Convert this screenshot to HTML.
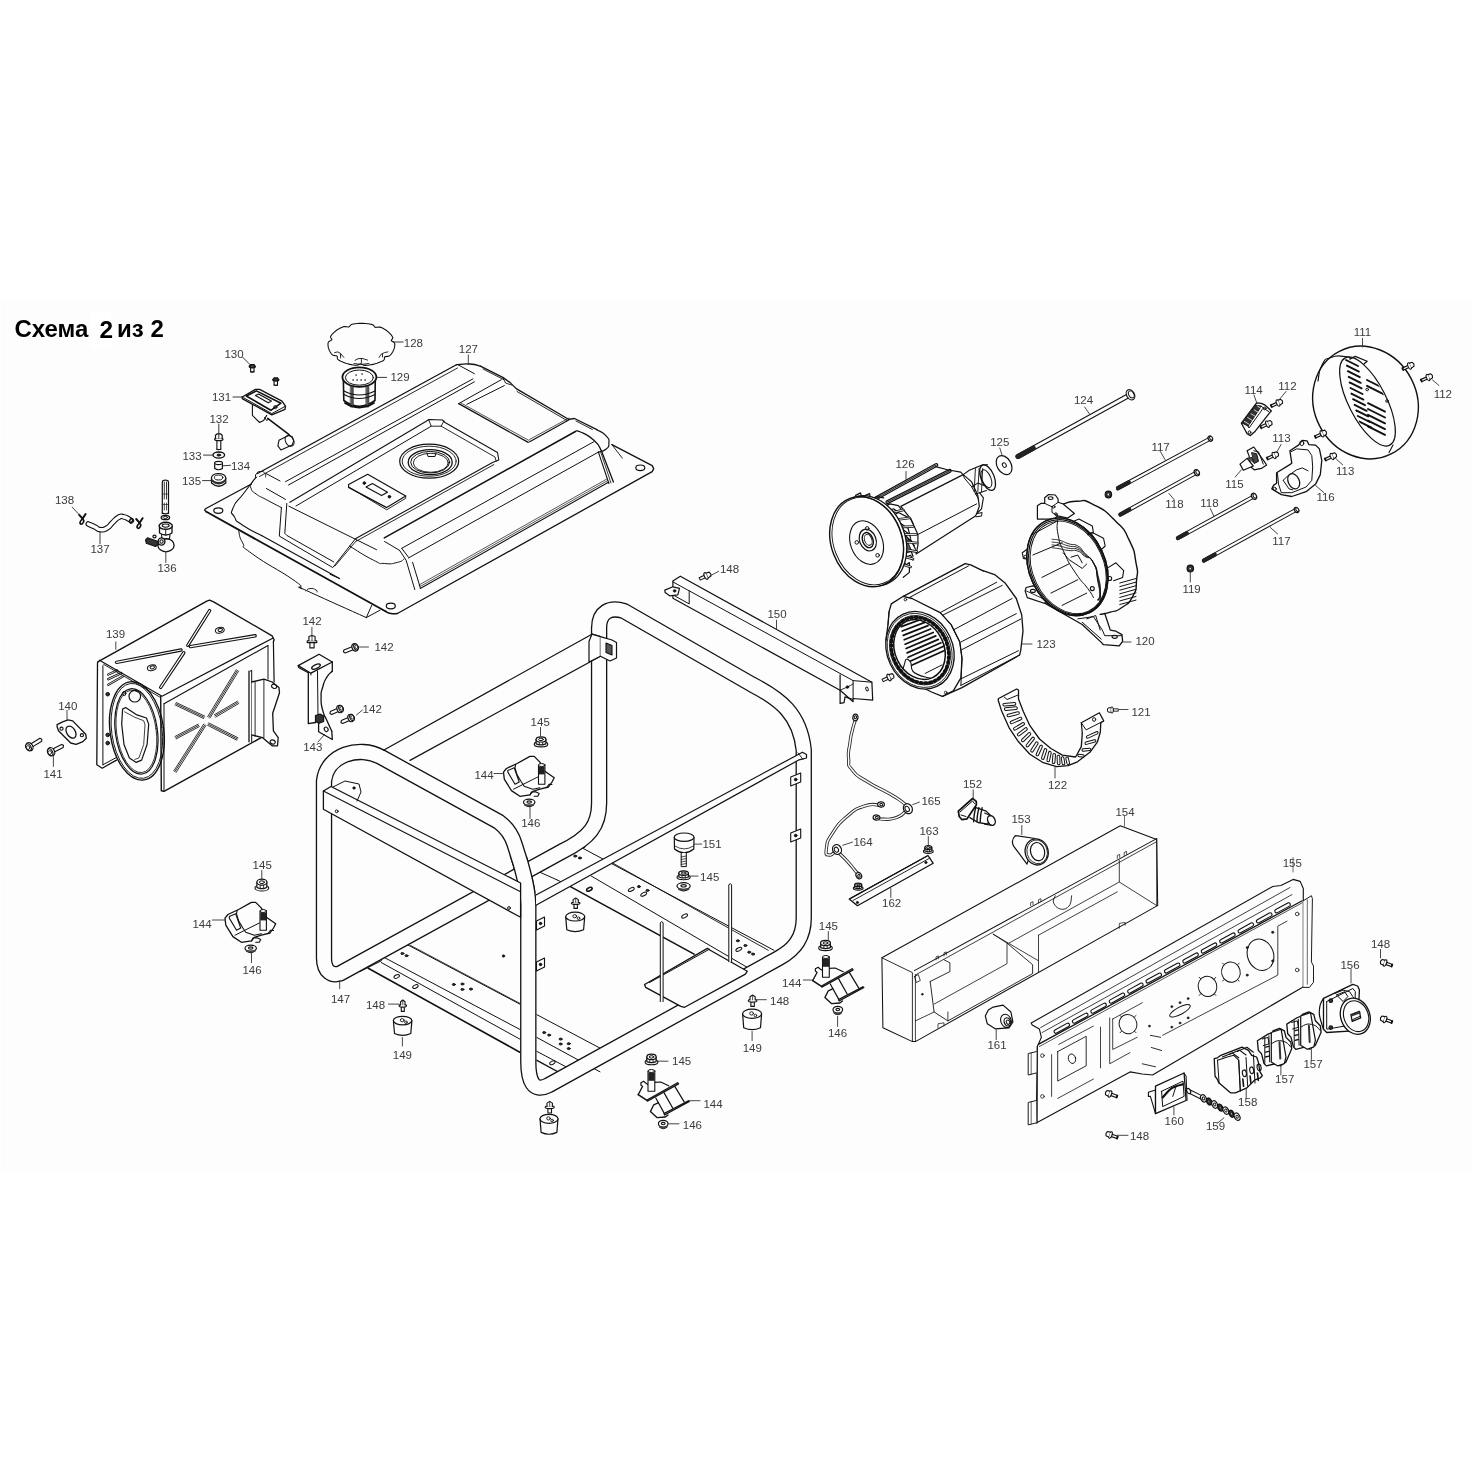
<!DOCTYPE html>
<html><head><meta charset="utf-8"><style>
html,body{margin:0;padding:0;background:#fff;}
body{width:1472px;height:1472px;overflow:hidden;}
svg{display:block;will-change:transform;}
text{font-family:"Liberation Sans",sans-serif;font-size:11.5px;fill:#3a3a3a;}
.ttl{font-family:"Liberation Sans",sans-serif;font-weight:bold;font-size:24px;fill:#000;}
</style></head><body>
<svg width="1472" height="1472" viewBox="0 0 1472 1472" xmlns="http://www.w3.org/2000/svg" stroke-linecap="round" stroke-linejoin="round">
<rect width="1472" height="1472" fill="#fff"/>
<rect x="1" y="300.6" width="1471" height="870.2" fill="#fdfdfd"/>
<rect x="90" y="311" width="21" height="38" fill="#fff"/>
<text class="ttl" x="14.5" y="337">Схема</text>
<text class="ttl" x="99.5" y="338" style="font-size:24.4px">2</text>
<text class="ttl" x="117" y="337">из</text>
<text class="ttl" x="150.5" y="337">2</text>
<path d="M238.6 530.7 C240 534.8 238.2 535.2 242.7 542.9 C247.2 550.6 235.5 541.6 252.2 553.8 C268.9 566 276.6 568.3 292.9 579.6 C309.2 590.9 295.7 583.6 301.1 587.7 C306.5 591.8 287.5 581.8 309.2 591.8 C330.9 601.8 347.3 609 366.3 617.6" fill="none" stroke="#111" stroke-width="1.0" />
<path d="M366.3 617.6 L371.7 605.4" fill="none" stroke="#111" stroke-width="1.0" />
<path d="M366.3 617.6 L380 610.2" fill="none" stroke="#111" stroke-width="1.0" />
<path d="M306 591 C307.3 590.2 306.7 588.8 310 588.5 C313.3 588.2 313.7 588.8 316 590 C318.3 591.2 316.7 591.3 317 592" fill="none" stroke="#111" stroke-width="0.9" />
<path d="M251.4 484 L205.5 508.7 L204.6 510 L206.4 511.8" fill="none" stroke="#111" stroke-width="1.3" />
<path d="M206.4 511.8 L385.4 611.3" fill="none" stroke="#111" stroke-width="1.8" />
<path d="M385.4 611.3 C387.2 612 386.9 612.8 390.9 613.5 C394.9 614.2 395.2 613.5 397.4 613.5" fill="none" stroke="#111" stroke-width="1.5" />
<path d="M397.4 613.5 L652.2 471.6 L653.7 468.6 L652.2 465.6 L611.9 444.7" fill="none" stroke="#111" stroke-width="1.3" />
<path d="M611.9 444.7 L622.3 458.1" fill="none" stroke="#111" stroke-width="0.9" />
<ellipse cx="218.3" cy="510.6" rx="4.5" ry="2.8" transform="rotate(0 218.3 510.6)" fill="none" stroke="#111" stroke-width="1.2"/>
<ellipse cx="390.8" cy="606" rx="4.5" ry="2.8" transform="rotate(0 390.8 606)" fill="none" stroke="#111" stroke-width="1.2"/>
<ellipse cx="640.3" cy="467.8" rx="4.5" ry="2.8" transform="rotate(0 640.3 467.8)" fill="none" stroke="#111" stroke-width="1.2"/>
<path d="M257.5 473.5 L456.4 364.7" fill="none" stroke="#111" stroke-width="1.3" />
<path d="M259.5 476.5 L457.5 368" fill="none" stroke="#111" stroke-width="0.9" />
<path d="M255.5 478 C255.8 476.5 254.7 475.7 256.5 473.5 C258.3 471.3 258.2 471.5 261 471.5 C263.8 471.5 263.5 471.7 265 473.5 C266.5 475.3 265.3 475.8 265.5 477" fill="none" stroke="#111" stroke-width="1.0" />
<path d="M456.4 364.7 C460.9 364.5 461.9 363.5 469.9 364 C477.9 364.5 476.9 365.5 480.4 366.2" fill="none" stroke="#111" stroke-width="1.3" />
<path d="M480.4 366.2 L502.8 377.4 L510.2 382.6 L516.2 388.6 L568.5 419.3 L574.5 418.5 L596.9 429.7" fill="none" stroke="#111" stroke-width="1.3" />
<path d="M596.9 429.7 C599.9 431.7 601.9 431.2 605.9 435.7 C609.9 440.2 608.9 438.7 608.9 443.2 C608.9 447.7 609.4 446.2 605.9 449.2 C602.4 452.2 600.9 451.1 598.4 452.1" fill="none" stroke="#111" stroke-width="1.2" />
<path d="M483 369 L503.5 379.5" fill="none" stroke="#111" stroke-width="0.9" />
<path d="M517 391.5 L567 420.5" fill="none" stroke="#111" stroke-width="0.9" />
<path d="M576 421 L592.4 429.5" fill="none" stroke="#111" stroke-width="0.9" />
<path d="M502.8 377.4 L505.5 383 L511.5 385" fill="none" stroke="#111" stroke-width="0.9" />
<path d="M457.9 364.7 L474.4 373.7" fill="none" stroke="#111" stroke-width="1.0" />
<path d="M285.5 481.7 L472.9 378.9" fill="none" stroke="#111" stroke-width="1.0" />
<path d="M288.5 485 L474.4 381.8" fill="none" stroke="#111" stroke-width="1.0" />
<path d="M266 473.5 L280 481" fill="none" stroke="#111" stroke-width="1.0" />
<path d="M266 478 L279 485" fill="none" stroke="#111" stroke-width="0.0" />
<path d="M458.7 403.6 L501.3 379.7" fill="none" stroke="#111" stroke-width="1.0" />
<path d="M466.9 404.3 L504.3 385.6" fill="none" stroke="#111" stroke-width="1.0" />
<path d="M458.7 403.6 L528.2 442.4" fill="none" stroke="#111" stroke-width="1.3" />
<path d="M461 403 L529 440.5" fill="none" stroke="#111" stroke-width="0.7" />
<path d="M529.7 441.7 L570 419.3" fill="none" stroke="#111" stroke-width="1.3" />
<path d="M529.5 439.5 L569 418" fill="none" stroke="#111" stroke-width="0.7" />
<path d="M289.9 502.3 L426.2 421.2 L428.8 419.5 L442.5 420 L445 422.5 L497.5 452.5 L498.8 460 L492.5 462.5" fill="none" stroke="#111" stroke-width="1.1" />
<path d="M428.8 420 L431.2 426.2 L441.2 426.2 L443.8 421.2" fill="none" stroke="#111" stroke-width="0.9" />
<path d="M431.2 426.2 L296 506" fill="none" stroke="#111" stroke-width="1.0" />
<path d="M441.2 426.2 L495 457 L496.2 461.2" fill="none" stroke="#111" stroke-width="0.9" />
<path d="M492.5 462.5 L355.4 538.8" fill="none" stroke="#111" stroke-width="1.1" />
<path d="M493.8 464.6 L356.6 541" fill="none" stroke="#111" stroke-width="0.9" />
<ellipse cx="429.2" cy="461.2" rx="29.5" ry="17" transform="rotate(0 429.2 461.2)" fill="#fdfdfd" stroke="#111" stroke-width="1.2"/>
<ellipse cx="429.2" cy="461.2" rx="27" ry="15" transform="rotate(0 429.2 461.2)" fill="none" stroke="#111" stroke-width="0.9"/>
<ellipse cx="430.2" cy="462.2" rx="22" ry="12.5" transform="rotate(0 430.2 462.2)" fill="none" stroke="#111" stroke-width="1.3"/>
<ellipse cx="430.2" cy="462.2" rx="19.5" ry="10.8" transform="rotate(0 430.2 462.2)" fill="none" stroke="#111" stroke-width="1.0"/>
<ellipse cx="430.8" cy="462.8" rx="17.5" ry="9.5" transform="rotate(0 430.8 462.8)" fill="none" stroke="#111" stroke-width="0.9"/>
<path d="M427 453 L428 456.5 L435 456.5 L436 453" fill="none" stroke="#111" stroke-width="1.0" />
<path d="M348.6 484.5 L367.7 474.3 L405.7 496 L386.7 507.6 L348.6 487.4 L348.6 484.5" fill="none" stroke="#111" stroke-width="1.2" />
<path d="M349.5 487.5 L386.7 509.8 L405.7 498.3 L405.7 496" fill="none" stroke="#111" stroke-width="0.9" />
<path d="M366 487 L372.4 483.6 L387.5 492.2 L381.6 495.6 Z" fill="none" stroke="#111" stroke-width="1.1" />
<circle cx="364.3" cy="483.1" r="1.3" fill="#111" stroke="#111" stroke-width="1.0"/>
<circle cx="389.4" cy="496.7" r="1.3" fill="#111" stroke="#111" stroke-width="1.0"/>
<path d="M384.3 537.9 L574.5 432" fill="none" stroke="#111" stroke-width="1.5" />
<path d="M574.5 432 C576.5 432 574 429.3 580.5 432 C587 434.7 586.9 434 593.9 440.2 C600.9 446.4 598.9 447.2 601.4 450.7" fill="none" stroke="#111" stroke-width="1.3" />
<path d="M601.4 450.7 L613.4 482" fill="none" stroke="#111" stroke-width="1.3" />
<path d="M401.7 548.3 L593.9 441.7" fill="none" stroke="#111" stroke-width="1.0" />
<path d="M408.3 558 L598.4 452.1" fill="none" stroke="#111" stroke-width="1.0" />
<path d="M598.4 452.1 L608.9 483.5" fill="none" stroke="#111" stroke-width="1.1" />
<path d="M600.9 452.5 L611 483" fill="none" stroke="#111" stroke-width="0.8" />
<path d="M420.2 588.5 L608.9 482" fill="none" stroke="#111" stroke-width="1.1" />
<path d="M419.6 586.8 L607.6 480.6" fill="none" stroke="#111" stroke-width="0.7" />
<path d="M419 585 L606.5 479.2" fill="none" stroke="#111" stroke-width="0.7" />
<path d="M412.6 562.4 L420.2 587.4" fill="none" stroke="#111" stroke-width="1.0" />
<path d="M399.6 550.4 L406.1 560.2 L414.8 589.6" fill="none" stroke="#111" stroke-width="1.0" />
<path d="M401.7 548.3 L408.3 557" fill="none" stroke="#111" stroke-width="1.0" />
<path d="M384.6 541.5 L399.6 550.4" fill="none" stroke="#111" stroke-width="1.0" />
<path d="M349.6 546.1 C357.6 550.8 361.9 554.4 373.5 560.2 C385.1 566 376.3 562.8 384.3 563.5 C392.3 564.2 390.9 563.9 397.4 562.4 C403.9 560.9 401.7 560.2 403.9 559.1" fill="none" stroke="#111" stroke-width="1.0" />
<path d="M414.8 589.6 L420.5 591.5 L613.4 483.5" fill="none" stroke="#111" stroke-width="0.0" />
<path d="M255 478.5 C251.3 483.3 251.3 483.3 244 493 C236.7 502.7 236.4 499.6 233.2 507.6 C230 515.6 231.3 511.2 234.5 517.1 C237.7 523 233.5 519 242.7 525.2 C251.9 531.4 255.6 532.3 262 535.8" fill="none" stroke="#111" stroke-width="1.1" />
<path d="M262 535.8 L339.1 578.2" fill="none" stroke="#111" stroke-width="1.1" />
<path d="M256.9 477 C255.2 478.9 253.8 479 251.9 482.8 C250 486.6 249.7 484.8 251.1 488.5 C252.5 492.2 251.3 490.4 256.2 494 C261.1 497.6 257.4 494.9 265.8 499.4 C274.2 503.9 276.2 504.9 281.4 507.6" fill="none" stroke="#111" stroke-width="1.0" />
<path d="M281.4 507.6 L279.3 536.1 L332.3 567.3" fill="none" stroke="#111" stroke-width="1.0" />
<path d="M286.8 503.5 L284.8 533.4 L286.8 535.4 L333.7 561.9" fill="none" stroke="#111" stroke-width="1.0" />
<path d="M333 567.3 L355.4 538.8" fill="none" stroke="#111" stroke-width="1.0" />
<path d="M335 566 L356.5 540.5" fill="none" stroke="#111" stroke-width="0.9" />
<path d="M266.4 488.5 L285.5 499.4" fill="none" stroke="#111" stroke-width="1.0" />
<path d="M288.9 506.2 L376.5 549.7" fill="none" stroke="#111" stroke-width="1.0" />
<path d="M287.5 514.3 L354.1 541.5" fill="none" stroke="#111" stroke-width="0.0" />
<path d="M330 574.3 L339.8 578.7" fill="none" stroke="#111" stroke-width="1.0" />
<line x1="225" y1="496.7" x2="251" y2="483" stroke="#222" stroke-width="0"/>
<path d="M394.8 344.5 L394.8 345.2 L394.7 346 L394.6 346.7 L394.5 347.4 L394.3 348.2 L394 348.9 L393.8 349.6 L393.5 350.3 L393.1 351 L392.8 351.7 L392.3 352.4 L391.9 353.1 L391.4 353.8 L390.9 354.4 L390.3 355.1 L389.6 355.7 L388.7 356.2 L387.3 356.4 L385.8 356.6 L384.7 356.9 L384.4 357.6 L384.4 358.6 L384.3 359.5 L383.7 360.2 L382.9 360.7 L381.9 361.2 L381 361.6 L380.1 362 L379.1 362.4 L378.1 362.8 L377.1 363.2 L376 363.5 L375 363.8 L373.9 364.1 L372.8 364.4 L371.7 364.6 L370.6 364.8 L369.5 365 L368.3 365.2 L367.2 365.3 L366 365.4 L364.9 365.4 L363.7 365.2 L362.5 364.6 L361.4 364 L360.3 363.8 L359.2 364.2 L358 364.9 L356.8 365.2 L355.6 365.3 L354.5 365.2 L353.3 365 L352.2 364.8 L351.1 364.6 L350 364.4 L348.9 364.1 L347.8 363.8 L346.8 363.5 L345.7 363.2 L344.7 362.8 L343.7 362.4 L342.7 362 L341.8 361.6 L340.9 361.2 L339.9 360.7 L339.1 360.2 L338.2 359.7 L337.6 359.1 L337.3 358.2 L337.4 357.3 L337.3 356.4 L336.6 355.9 L335.3 355.7 L333.8 355.4 L332.7 355 L331.9 354.4 L331.4 353.8 L330.9 353.1 L330.5 352.4 L330 351.7 L329.7 351 L329.3 350.3 L329 349.6 L328.8 348.9 L328.5 348.2 L328.3 347.4 L328.2 346.7 L328.1 346 L328 345.2 L328 344.5 L328 343.8 L328.1 343 L328.3 342.3 L328.8 341.6 L329.8 341 L331 340.4 L331.8 339.8 L331.8 339.1 L331.1 338.3 L330.6 337.4 L330.6 336.6 L330.9 335.9 L331.4 335.2 L331.9 334.6 L332.5 333.9 L333.1 333.3 L333.7 332.7 L334.4 332.1 L335.1 331.5 L335.8 330.9 L336.6 330.3 L337.4 329.8 L338.2 329.3 L339.1 328.8 L339.9 328.3 L340.9 327.8 L341.8 327.4 L342.7 327 L343.8 326.6 L345 326.5 L346.5 326.7 L347.9 327 L349 326.9 L349.8 326.2 L350.4 325.3 L351.2 324.6 L352.2 324.2 L353.3 324 L354.5 323.8 L355.6 323.7 L356.8 323.5 L357.9 323.5 L359.1 323.4 L360.2 323.4 L361.4 323.3 L362.6 323.4 L363.7 323.4 L364.9 323.5 L366 323.5 L367.2 323.7 L368.3 323.8 L369.5 324 L370.6 324.2 L371.7 324.4 L372.7 324.7 L373.6 325.4 L374.2 326.3 L374.8 327.1 L375.7 327.4 L377.1 327.3 L378.6 327.1 L379.9 327.1 L381 327.4 L381.9 327.8 L382.9 328.3 L383.7 328.8 L384.6 329.3 L385.4 329.8 L386.2 330.3 L387 330.9 L387.7 331.5 L388.4 332.1 L389.1 332.7 L389.7 333.3 L390.3 333.9 L390.9 334.6 L391.4 335.2 L391.9 335.9 L392.3 336.6 L392.7 337.3 L392.8 338 L392.4 338.9 L391.7 339.7 L391.2 340.5 L391.7 341.1 L392.8 341.7 L393.9 342.3 L394.5 343 L394.7 343.8 L394.8 344.5 Z" fill="#fdfdfd" stroke="#111" stroke-width="1.1" />
<path d="M334.6 352.6 L337.7 351.9 L340.4 353.3 L343.8 357.4" fill="none" stroke="#111" stroke-width="0.9" />
<path d="M355 360.4 L358 358.7 L362.1 358.4 L367.6 360.1" fill="none" stroke="#111" stroke-width="0.9" />
<path d="M379.1 357.4 L381.1 354.3 L384.5 352.6 L387.9 351.9" fill="none" stroke="#111" stroke-width="0.9" />
<path d="M340.4 353.6 L340.7 358" fill="none" stroke="#111" stroke-width="0.9" />
<path d="M361.4 358.7 L361.4 362.8" fill="none" stroke="#111" stroke-width="0.9" />
<path d="M382.5 354.3 L382.5 357" fill="none" stroke="#111" stroke-width="0.9" />
<path d="M354 363.5 L360.8 364.5 L368.9 363.5" fill="none" stroke="#111" stroke-width="0.9" />
<line x1="393.4" y1="342" x2="403.2" y2="342" stroke="#222" stroke-width="0.9"/>
<path d="M343.3 377.5 L343.8 400.5 Q359 412 375 400.5 L375.3 377.5" fill="#fdfdfd" stroke="#111" stroke-width="1.6" />
<ellipse cx="359.4" cy="377.1" rx="17" ry="9.8" transform="rotate(0 359.4 377.1)" fill="#fdfdfd" stroke="#111" stroke-width="1.8"/>
<ellipse cx="359.4" cy="377.6" rx="14" ry="7.6" transform="rotate(0 359.4 377.6)" fill="none" stroke="#111" stroke-width="1.0"/>
<path d="M350.6 386.5 L353.3 386.5 L353.3 407 L350.6 407 Z" fill="#555" stroke="#222" stroke-width="0.6"/>
<path d="M366.2 386.5 L368.9 386.5 L368.9 407 L366.2 407 Z" fill="#555" stroke="#222" stroke-width="0.6"/>
<path d="M344 391 Q359 399 375 391" fill="none" stroke="#111" stroke-width="1.2" />
<path d="M344 394.5 Q359 402.5 375 394.5" fill="none" stroke="#111" stroke-width="1.2" />
<path d="M345 403 Q359 412 374 403" fill="none" stroke="#111" stroke-width="1.8" />
<circle cx="353" cy="380" r="0.5" fill="#333" stroke="#111" stroke-width="0.4"/>
<circle cx="357" cy="380" r="0.5" fill="#333" stroke="#111" stroke-width="0.4"/>
<circle cx="361" cy="380" r="0.5" fill="#333" stroke="#111" stroke-width="0.4"/>
<circle cx="365" cy="380" r="0.5" fill="#333" stroke="#111" stroke-width="0.4"/>
<circle cx="356" cy="375" r="0.5" fill="#333" stroke="#111" stroke-width="0.4"/>
<circle cx="362" cy="374" r="0.5" fill="#333" stroke="#111" stroke-width="0.4"/>
<line x1="377" y1="377.4" x2="386.6" y2="377.4" stroke="#222" stroke-width="0.9"/>
<path d="M250.6 366.7 L250.6 371.9 L254 371.9 L254 366.7" fill="#fdfdfd" stroke="#111" stroke-width="1.1" />
<path d="M250.6 371.7 Q252.3 372.9 254 371.7" fill="none" stroke="#111" stroke-width="1.0" />
<ellipse cx="252.3" cy="366.5" rx="3.1" ry="1.3" transform="rotate(0 252.3 366.5)" fill="#444" stroke="#111" stroke-width="1.2"/>
<path d="M250.1 366.1 L250.5 364.5 L254.1 364.5 L254.5 366.1" fill="#333" stroke="#111" stroke-width="1.2" />
<path d="M274.1 380 L274.1 385.2 L277.5 385.2 L277.5 380" fill="#fdfdfd" stroke="#111" stroke-width="1.1" />
<path d="M274.1 385 Q275.8 386.2 277.5 385" fill="none" stroke="#111" stroke-width="1.0" />
<ellipse cx="275.8" cy="379.8" rx="3.1" ry="1.3" transform="rotate(0 275.8 379.8)" fill="#444" stroke="#111" stroke-width="1.2"/>
<path d="M273.6 379.4 L274 377.8 L277.6 377.8 L278 379.4" fill="#333" stroke="#111" stroke-width="1.2" />
<line x1="242.7" y1="357.3" x2="249.9" y2="364.5" stroke="#222" stroke-width="0.9"/>
<path d="M252.4 405.2 L252.4 415.4 L259.6 422.5 L263.6 420.5 L266.7 415.4" fill="#fdfdfd" stroke="#111" stroke-width="1.1" />
<path d="M242.2 397 L255.5 389.4 L259.6 389.4 L282 401.1 L285.5 406.2 L285 409.3 L271.8 414.9 L242.2 398.6 Z" fill="#fdfdfd" stroke="#111" stroke-width="1.3" />
<path d="M242.2 397 L271.8 413.6 L285.5 406.2" fill="none" stroke="#111" stroke-width="1.0" />
<path d="M246.3 396 L256.5 390.9 L280.9 403.2 L270.8 410.3 L246.3 396" fill="none" stroke="#111" stroke-width="1.6" />
<path d="M255.5 395.5 L258.5 394 L271.3 401.1 L268.2 402.7 Z" fill="none" stroke="#111" stroke-width="1.2" />
<circle cx="275.3" cy="407.2" r="1.6" fill="none" stroke="#111" stroke-width="1.0"/>
<path d="M267.7 418.4 L289.1 434.7" fill="none" stroke="#111" stroke-width="1.6" />
<path d="M264.6 417.4 L266.7 420.5 L268.7 419" fill="none" stroke="#111" stroke-width="1.0" />
<path d="M278.9 440.9 L277.9 445.9 L280.9 450 L292.2 444.9 L293.7 440.9 L292.2 436.8 L289.1 435.3 L278.9 440.3 Z" fill="#fdfdfd" stroke="#111" stroke-width="1.1" />
<ellipse cx="289.6" cy="440.9" rx="4" ry="5.8" transform="rotate(-30 289.6 440.9)" fill="none" stroke="#111" stroke-width="1.0"/>
<line x1="233" y1="397" x2="242.2" y2="397" stroke="#222" stroke-width="0.9"/>
<path d="M216.9 439.5 L216.9 449.5 L220.8 449.5 L220.8 439.5" fill="#fdfdfd" stroke="#111" stroke-width="1.1" />
<path d="M216.9 449.3 Q218.85 450.6 220.8 449.3" fill="none" stroke="#111" stroke-width="1.0" />
<ellipse cx="218.8" cy="439.2" rx="4.2" ry="1.4" transform="rotate(0 218.8 439.2)" fill="#fdfdfd" stroke="#111" stroke-width="1.2"/>
<path d="M215.5 438.5 L215.5 435.2 L217.2 433.8 L220.5 433.8 L222.2 435.2 L222.2 438.5" fill="#fdfdfd" stroke="#111" stroke-width="1.2" />
<line x1="218.8" y1="434" x2="218.8" y2="438.4" stroke="#222" stroke-width="0.9"/>
<line x1="218.8" y1="424" x2="218.8" y2="433.7" stroke="#222" stroke-width="0.9"/>
<ellipse cx="218.8" cy="455.1" rx="5.8" ry="3.1" transform="rotate(0 218.8 455.1)" fill="#fdfdfd" stroke="#111" stroke-width="1.3"/>
<ellipse cx="218.8" cy="455.1" rx="1.8" ry="1" transform="rotate(0 218.8 455.1)" fill="#222" stroke="#111" stroke-width="1.0"/>
<line x1="203.5" y1="455.1" x2="213" y2="455.1" stroke="#222" stroke-width="0.9"/>
<path d="M214.7 463 L214.7 468.5 Q218.5 471 222.4 468.5 L222.4 463" fill="#fdfdfd" stroke="#111" stroke-width="1.2" />
<ellipse cx="218.6" cy="463" rx="3.9" ry="1.6" transform="rotate(0 218.6 463)" fill="#fdfdfd" stroke="#111" stroke-width="1.1"/>
<line x1="222.9" y1="465.8" x2="230.5" y2="465.3" stroke="#222" stroke-width="0.9"/>
<path d="M211.5 478 L211.5 483 Q218.6 489.5 225.8 483 L225.8 478" fill="#fdfdfd" stroke="#111" stroke-width="1.2" />
<ellipse cx="218.6" cy="478" rx="7.2" ry="4.5" transform="rotate(0 218.6 478)" fill="#fdfdfd" stroke="#111" stroke-width="1.2"/>
<ellipse cx="218.6" cy="477.5" rx="4.2" ry="2.5" transform="rotate(0 218.6 477.5)" fill="none" stroke="#111" stroke-width="1.0"/>
<path d="M212.5 481 Q218.6 486 224.8 481" fill="none" stroke="#333" stroke-width="2.0" />
<line x1="202.5" y1="480.6" x2="211.2" y2="480.6" stroke="#222" stroke-width="0.9"/>
<path d="M162.3 513.5 L162.3 482 L163 480.6 L165.4 480 L167.8 480.6 L168.5 482 L168.5 513.5" fill="#fdfdfd" stroke="#111" stroke-width="1.2" />
<path d="M162.3 513 Q165.4 514.8 168.5 513" fill="none" stroke="#111" stroke-width="1.2" />
<line x1="164.3" y1="482" x2="164.3" y2="499" stroke="#222" stroke-width="0.9"/>
<line x1="166.5" y1="482" x2="166.5" y2="499" stroke="#222" stroke-width="0.9"/>
<line x1="164.3" y1="503" x2="164.3" y2="510" stroke="#222" stroke-width="0.8"/>
<line x1="166.5" y1="503" x2="166.5" y2="510" stroke="#222" stroke-width="0.8"/>
<line x1="162.3" y1="494" x2="168.5" y2="494" stroke="#222" stroke-width="0.7"/>
<line x1="162.3" y1="504.5" x2="168.5" y2="504.5" stroke="#222" stroke-width="0.7"/>
<ellipse cx="165.4" cy="517.5" rx="4.2" ry="2.2" transform="rotate(0 165.4 517.5)" fill="#fdfdfd" stroke="#111" stroke-width="1.3"/>
<ellipse cx="165.4" cy="517.5" rx="2.2" ry="1" transform="rotate(0 165.4 517.5)" fill="none" stroke="#111" stroke-width="0.9"/>
<ellipse cx="166" cy="545.2" rx="8.1" ry="6.6" transform="rotate(0 166 545.2)" fill="#fdfdfd" stroke="#111" stroke-width="1.3"/>
<path d="M159.5 526 L159.5 533 Q165.7 537 172 533 L172 526" fill="#fdfdfd" stroke="#111" stroke-width="1.3" />
<ellipse cx="165.7" cy="525.8" rx="6.6" ry="3.5" transform="rotate(0 165.7 525.8)" fill="#fdfdfd" stroke="#111" stroke-width="1.4"/>
<ellipse cx="165.7" cy="525.6" rx="3.5" ry="1.6" transform="rotate(0 165.7 525.6)" fill="none" stroke="#111" stroke-width="1.1"/>
<line x1="165.7" y1="529.3" x2="165.7" y2="535" stroke="#222" stroke-width="1.0"/>
<path d="M161.5 534.5 L162 539 L169.5 539 L170 534.5" fill="none" stroke="#111" stroke-width="1.1" />
<ellipse cx="161.5" cy="541.5" rx="3.4" ry="3.6" transform="rotate(0 161.5 541.5)" fill="#fdfdfd" stroke="#111" stroke-width="1.4"/>
<ellipse cx="161.5" cy="541.5" rx="1.6" ry="1.8" transform="rotate(0 161.5 541.5)" fill="none" stroke="#111" stroke-width="1.1"/>
<path d="M145.6 539.8 L147.5 537.8 L157.5 541.2 L158.3 544.2 L155.5 546.5 L146.3 543.2 L145.6 539.8 Z" fill="#333" stroke="#111" stroke-width="1.2" />
<ellipse cx="154.5" cy="536.5" rx="1.6" ry="1.3" transform="rotate(0 154.5 536.5)" fill="#fdfdfd" stroke="#111" stroke-width="1.2"/>
<line x1="165.8" y1="552.5" x2="165.8" y2="562.5" stroke="#333" stroke-width="0.9"/>
<path d="M88.3 524 C90.5 525 91 525.1 95 527 C99 528.9 96.2 529.3 100.2 529.6 C104.2 529.9 102.9 530.3 107 528 C111.1 525.7 108.6 526.3 112.4 522.8 C116.2 519.3 114.8 519.4 118.4 517.4 C122 515.4 119.9 516.2 123.3 516.7 C126.7 517.2 126 517.6 128.7 519 C131.4 520.4 130.4 520.2 131.3 520.8" fill="none" stroke="#111" stroke-width="5.6" stroke-linecap="round"/>
<path d="M88.3 524 C90.5 525 91 525.1 95 527 C99 528.9 96.2 529.3 100.2 529.6 C104.2 529.9 102.9 530.3 107 528 C111.1 525.7 108.6 526.3 112.4 522.8 C116.2 519.3 114.8 519.4 118.4 517.4 C122 515.4 119.9 516.2 123.3 516.7 C126.7 517.2 126 517.6 128.7 519 C131.4 520.4 130.4 520.2 131.3 520.8" fill="none" stroke="#fdfdfd" stroke-width="3.4" stroke-linecap="round"/>
<ellipse cx="131.2" cy="520.6" rx="1.4" ry="2.1" transform="rotate(25 131.2 520.6)" fill="#fdfdfd" stroke="#111" stroke-width="1.6"/>
<path d="M79.2 514.8 L82.6 518.6" fill="none" stroke="#111" stroke-width="2.0" />
<path d="M82.6 518.6 L85.6 514" fill="none" stroke="#111" stroke-width="2.0" />
<ellipse cx="81.9" cy="521.8" rx="1.5" ry="2.5" transform="rotate(30 81.9 521.8)" fill="none" stroke="#111" stroke-width="1.6"/>
<path d="M136.2 519 L139.6 522.8" fill="none" stroke="#111" stroke-width="2.0" />
<path d="M139.6 522.8 L142.6 518.2" fill="none" stroke="#111" stroke-width="2.0" />
<ellipse cx="138.9" cy="526" rx="1.5" ry="2.5" transform="rotate(30 138.9 526)" fill="none" stroke="#111" stroke-width="1.6"/>
<line x1="72.2" y1="507.1" x2="79" y2="514.5" stroke="#333" stroke-width="0.9"/>
<line x1="100" y1="532.5" x2="100" y2="543.8" stroke="#222" stroke-width="0.9"/>
<path d="M98.2 661.6 L97.5 662.9 L96.8 764.8 L102.2 768.2 L116.5 760.1" fill="none" stroke="#111" stroke-width="1.3" />
<path d="M102.9 665.7 L102.9 764.8" fill="none" stroke="#111" stroke-width="1.0" />
<path d="M102.9 764.8 L116.5 757.4" fill="none" stroke="#111" stroke-width="1.0" />
<ellipse cx="136.9" cy="730.9" rx="26.8" ry="49.5" transform="rotate(-8 136.9 730.9)" fill="#fdfdfd" stroke="#111" stroke-width="1.4"/>
<ellipse cx="136.9" cy="730.9" rx="25.2" ry="47.8" transform="rotate(-8 136.9 730.9)" fill="none" stroke="#111" stroke-width="0.9"/>
<ellipse cx="136.4" cy="731.4" rx="21" ry="43" transform="rotate(-8 136.4 731.4)" fill="none" stroke="#111" stroke-width="1.2"/>
<ellipse cx="136.4" cy="731.4" rx="19.8" ry="41.5" transform="rotate(-8 136.4 731.4)" fill="none" stroke="#111" stroke-width="0.8"/>
<path d="M122.6 709.1 L125.6 707.5 L136.2 714.6 L146.4 718 L148.7 724.1 L147.1 744.5 L141.6 760.1 L136.2 762.4 L129.4 758 L124 744.5 L121.7 724.1 L122.6 709.1 Z" fill="none" stroke="#111" stroke-width="1.2" />
<path d="M124.6 711.8 L134.8 717.3 L143.7 720.7 L145 724.8 L143.7 744.5 L138.9 758 L134.8 759.4" fill="none" stroke="#111" stroke-width="0.8" />
<circle cx="134.8" cy="696.2" r="5.8" fill="none" stroke="#111" stroke-width="1.2"/>
<ellipse cx="124.2" cy="693.5" rx="1.6" ry="2.2" transform="rotate(0 124.2 693.5)" fill="none" stroke="#111" stroke-width="1.0"/>
<path d="M108.3 674.5 L117.2 670.4" fill="none" stroke="#111" stroke-width="2.4" />
<path d="M108.3 674.5 L117.2 670.4" fill="none" stroke="#fdfdfd" stroke-width="0.8" />
<path d="M108.3 679.2 L121.2 673.1" fill="none" stroke="#111" stroke-width="2.4" />
<path d="M108.3 679.2 L121.2 673.1" fill="none" stroke="#fdfdfd" stroke-width="0.8" />
<path d="M108.3 684.7 L122.6 676.5" fill="none" stroke="#111" stroke-width="2.4" />
<path d="M108.3 684.7 L122.6 676.5" fill="none" stroke="#fdfdfd" stroke-width="0.8" />
<circle cx="107.7" cy="694.2" r="1.8" fill="#333" stroke="#111" stroke-width="1.0"/>
<circle cx="107.7" cy="734.9" r="1.8" fill="#333" stroke="#111" stroke-width="1.0"/>
<circle cx="107.7" cy="743.1" r="1.8" fill="#333" stroke="#111" stroke-width="1.0"/>
<path d="M98.2 661.6 L206.8 601.1 L209.6 600.2 L213.6 601.8 L272.1 635.8 L274.1 639.8 L273.4 641.9" fill="none" stroke="#111" stroke-width="1.4" />
<path d="M99.5 660.2 L162 696.2 L272.7 638.2" fill="none" stroke="#111" stroke-width="1.2" />
<path d="M103.6 664.3 L160.7 697.6" fill="none" stroke="#111" stroke-width="0.9" />
<path d="M164 703.7 L268 645.5" fill="none" stroke="#111" stroke-width="1.1" />
<path d="M116.5 662.3 L181 650" fill="none" stroke="#111" stroke-width="3.4000000000000004" stroke-linecap="round"/>
<path d="M116.5 662.3 L181 650" fill="none" stroke="#fdfdfd" stroke-width="1.2000000000000002" stroke-linecap="round"/>
<path d="M190.5 646.6 L255.1 635.8" fill="none" stroke="#111" stroke-width="3.4000000000000004" stroke-linecap="round"/>
<path d="M190.5 646.6 L255.1 635.8" fill="none" stroke="#fdfdfd" stroke-width="1.2000000000000002" stroke-linecap="round"/>
<path d="M209.6 610.6 L187.8 645.3" fill="none" stroke="#111" stroke-width="3.4000000000000004" stroke-linecap="round"/>
<path d="M209.6 610.6 L187.8 645.3" fill="none" stroke="#fdfdfd" stroke-width="1.2000000000000002" stroke-linecap="round"/>
<path d="M183.8 652.7 L160.7 687.4" fill="none" stroke="#111" stroke-width="3.4000000000000004" stroke-linecap="round"/>
<path d="M183.8 652.7 L160.7 687.4" fill="none" stroke="#fdfdfd" stroke-width="1.2000000000000002" stroke-linecap="round"/>
<ellipse cx="151.8" cy="667.7" rx="4.5" ry="2.8" transform="rotate(-15 151.8 667.7)" fill="none" stroke="#111" stroke-width="1.0"/>
<ellipse cx="152.3" cy="667.4" rx="2.2" ry="1.5" transform="rotate(-15 152.3 667.4)" fill="none" stroke="#111" stroke-width="1.0"/>
<ellipse cx="219.8" cy="630.3" rx="4.5" ry="2.8" transform="rotate(-15 219.8 630.3)" fill="none" stroke="#111" stroke-width="1.0"/>
<ellipse cx="220.3" cy="630" rx="2.2" ry="1.5" transform="rotate(-15 220.3 630)" fill="none" stroke="#111" stroke-width="1.0"/>
<path d="M160.7 696.2 L161.3 790.7 L164 791.3 L261.2 737.7" fill="none" stroke="#111" stroke-width="1.4" />
<path d="M164 703.7 L164 790.7" fill="none" stroke="#111" stroke-width="1.0" />
<path d="M268 645.5 L268 679.2" fill="none" stroke="#111" stroke-width="1.0" />
<path d="M273.4 641.9 L274.1 682" fill="none" stroke="#111" stroke-width="1.2" />
<line x1="173.8" y1="770.9" x2="203.7" y2="724" stroke="#111" stroke-width="0.85"/>
<line x1="174.9" y1="771.6" x2="204.8" y2="724.8" stroke="#111" stroke-width="0.85"/>
<line x1="176.1" y1="772.4" x2="205.9" y2="725.5" stroke="#111" stroke-width="0.85"/>
<line x1="207.7" y1="716.6" x2="236.3" y2="669.7" stroke="#111" stroke-width="0.85"/>
<line x1="208.9" y1="717.3" x2="237.4" y2="670.4" stroke="#111" stroke-width="0.85"/>
<line x1="210" y1="718" x2="238.6" y2="671.1" stroke="#111" stroke-width="0.85"/>
<line x1="176.2" y1="702.5" x2="204.7" y2="716.1" stroke="#111" stroke-width="0.85"/>
<line x1="175.6" y1="703.7" x2="204.1" y2="717.3" stroke="#111" stroke-width="0.85"/>
<line x1="175" y1="704.9" x2="203.6" y2="718.5" stroke="#111" stroke-width="0.85"/>
<line x1="208.8" y1="722.9" x2="238" y2="737.8" stroke="#111" stroke-width="0.85"/>
<line x1="208.2" y1="724.1" x2="237.4" y2="739" stroke="#111" stroke-width="0.85"/>
<line x1="207.6" y1="725.3" x2="236.8" y2="740.2" stroke="#111" stroke-width="0.85"/>
<line x1="175" y1="736.5" x2="198.1" y2="724.2" stroke="#111" stroke-width="0.85"/>
<line x1="175.6" y1="737.7" x2="198.7" y2="725.4" stroke="#111" stroke-width="0.85"/>
<line x1="176.2" y1="738.9" x2="199.3" y2="726.6" stroke="#111" stroke-width="0.85"/>
<line x1="214.3" y1="714.8" x2="237.4" y2="701.2" stroke="#111" stroke-width="0.85"/>
<line x1="215" y1="715.9" x2="238.1" y2="702.3" stroke="#111" stroke-width="0.85"/>
<line x1="215.7" y1="717.1" x2="238.8" y2="703.5" stroke="#111" stroke-width="0.85"/>
<path d="M249 671.1 L249 741.7" fill="none" stroke="#111" stroke-width="1.3" />
<path d="M251.7 671.1 L251.7 741.7" fill="none" stroke="#111" stroke-width="1.0" />
<path d="M250.3 671.1 L251.7 670.4" fill="none" stroke="#111" stroke-width="1.0" />
<path d="M251.7 682 L263.9 679.2 L272.1 682 L278.9 687.4 L279.5 692.8 L272.7 713.2 L273.4 730.9 L278.2 737.7 L277.5 745.8 L272.1 745.8 L262.6 737.7 L251.7 734.9" fill="#fdfdfd" stroke="#111" stroke-width="1.3" />
<path d="M255.1 682 L255.1 736.3" fill="none" stroke="#111" stroke-width="0.9" />
<path d="M263.9 679.9 L263.9 737.7" fill="none" stroke="#111" stroke-width="0.9" />
<ellipse cx="274.1" cy="686.3" rx="2.6" ry="2" transform="rotate(20 274.1 686.3)" fill="none" stroke="#111" stroke-width="1.1"/>
<ellipse cx="272.7" cy="742" rx="2.6" ry="2" transform="rotate(20 272.7 742)" fill="none" stroke="#111" stroke-width="1.1"/>
<line x1="115.8" y1="641.9" x2="115.8" y2="649.3" stroke="#333" stroke-width="0.9"/>
<path d="M57.1 724.6 L62.6 721.9 L68 719.9 L72.7 720.9 L85.7 734.2 L86.3 738.2 L82.9 741.6 L76.1 744.3 L70.7 743 L58.5 730.8 L57.1 726.7 Z" fill="none" stroke="#111" stroke-width="1.3" />
<ellipse cx="71" cy="732.1" rx="4.3" ry="6.6" transform="rotate(-32 71 732.1)" fill="none" stroke="#111" stroke-width="1.3"/>
<circle cx="61.5" cy="728.7" r="1.6" fill="none" stroke="#111" stroke-width="1.1"/>
<circle cx="81.9" cy="735.2" r="1.6" fill="none" stroke="#111" stroke-width="1.1"/>
<line x1="67" y1="710.4" x2="67" y2="719.9" stroke="#333" stroke-width="0.9"/>
<path d="M31.6 747.4 L41.7 741.3 L41.8 739.2 L39.9 738.3 L29.8 744.5" fill="#fdfdfd" stroke="#111" stroke-width="1.1" />
<ellipse cx="29.5" cy="746.7" rx="3.2" ry="4.3" transform="rotate(-31.4 29.5 746.7)" fill="#fdfdfd" stroke="#111" stroke-width="1.2"/>
<ellipse cx="28.5" cy="747.3" rx="2.4" ry="3.7" transform="rotate(-31.4 28.5 747.3)" fill="#fdfdfd" stroke="#111" stroke-width="1.1"/>
<circle cx="28" cy="747.6" r="1.9" fill="none" stroke="#111" stroke-width="0.9"/>
<path d="M53.3 752.6 L63.2 747.4 L63.5 745.3 L61.6 744.4 L51.7 749.6" fill="#fdfdfd" stroke="#111" stroke-width="1.1" />
<ellipse cx="51.3" cy="751.7" rx="3.2" ry="4.3" transform="rotate(-27.7 51.3 751.7)" fill="#fdfdfd" stroke="#111" stroke-width="1.2"/>
<ellipse cx="50.2" cy="752.3" rx="2.4" ry="3.7" transform="rotate(-27.7 50.2 752.3)" fill="#fdfdfd" stroke="#111" stroke-width="1.1"/>
<circle cx="49.7" cy="752.6" r="1.9" fill="none" stroke="#111" stroke-width="0.9"/>
<line x1="53.4" y1="756.6" x2="53.4" y2="766.4" stroke="#333" stroke-width="0.9"/>
<path d="M309.9 642.1 L309.9 647.9 L314.1 647.9 L314.1 642.1" fill="#fdfdfd" stroke="#111" stroke-width="1.1" />
<path d="M307.2 640.7 L307.2 642.6 L316.8 642.6 L316.8 640.7 L307.2 640.7" fill="#fdfdfd" stroke="#111" stroke-width="1.1" />
<path d="M308.9 640.7 L308.9 636.6 L312 635.5 L315.1 636.6 L315.1 640.7" fill="#fdfdfd" stroke="#111" stroke-width="1.1" />
<line x1="312" y1="635.8" x2="312" y2="640.7" stroke="#222" stroke-width="0.8"/>
<line x1="311.9" y1="627.5" x2="311.9" y2="635" stroke="#333" stroke-width="0.9"/>
<path d="M353.3 646.3 L343.9 650 L343.4 651.9 L345.1 653 L354.5 649.3" fill="#fdfdfd" stroke="#111" stroke-width="1.1" />
<ellipse cx="354.9" cy="647.4" rx="2.8" ry="3.8" transform="rotate(158.6 354.9 647.4)" fill="#fdfdfd" stroke="#111" stroke-width="1.2"/>
<ellipse cx="356" cy="647" rx="2.1" ry="3.2" transform="rotate(158.6 356 647)" fill="#fdfdfd" stroke="#111" stroke-width="1.1"/>
<circle cx="356.6" cy="646.8" r="1.7" fill="none" stroke="#111" stroke-width="0.9"/>
<line x1="359.5" y1="647" x2="368.5" y2="647" stroke="#333" stroke-width="0.9"/>
<path d="M338.3 708 L330.3 711.5 L329.9 713.5 L331.7 714.5 L339.6 710.9" fill="#fdfdfd" stroke="#111" stroke-width="1.1" />
<ellipse cx="339.9" cy="709" rx="2.8" ry="3.8" transform="rotate(155.8 339.9 709)" fill="#fdfdfd" stroke="#111" stroke-width="1.2"/>
<ellipse cx="341" cy="708.5" rx="2.1" ry="3.2" transform="rotate(155.8 341 708.5)" fill="#fdfdfd" stroke="#111" stroke-width="1.1"/>
<circle cx="341.5" cy="708.3" r="1.7" fill="none" stroke="#111" stroke-width="0.9"/>
<path d="M349.3 717 L341.3 720.5 L340.9 722.5 L342.7 723.5 L350.6 719.9" fill="#fdfdfd" stroke="#111" stroke-width="1.1" />
<ellipse cx="350.9" cy="718" rx="2.8" ry="3.8" transform="rotate(155.8 350.9 718)" fill="#fdfdfd" stroke="#111" stroke-width="1.2"/>
<ellipse cx="352" cy="717.5" rx="2.1" ry="3.2" transform="rotate(155.8 352 717.5)" fill="#fdfdfd" stroke="#111" stroke-width="1.1"/>
<circle cx="352.5" cy="717.3" r="1.7" fill="none" stroke="#111" stroke-width="0.9"/>
<line x1="356.5" y1="715" x2="362.5" y2="710" stroke="#333" stroke-width="0.9"/>
<path d="M332.3 671.2 C330.4 673.2 329.9 671.9 326.7 677.3 C323.5 682.7 324.5 680.7 322.6 687.5 C320.7 694.3 321.1 690.2 321.1 697.7 C321.1 705.2 320.7 702.4 322.6 709.9 C324.5 717.4 323.6 713 326.7 720.1 C329.8 727.2 330.1 727.6 331.8 731.3" fill="none" stroke="#111" stroke-width="1.3" />
<path d="M331.8 731.3 L332.3 739.5 L318.6 731.8 L318.6 723" fill="none" stroke="#111" stroke-width="1.3" />
<path d="M308.3 672.7 L308.3 723.7 L315.5 722.5" fill="none" stroke="#111" stroke-width="1.3" />
<path d="M317.5 671 L318 716" fill="none" stroke="#111" stroke-width="1.0" />
<path d="M298.2 665.6 L319.1 654.3 L332.3 662 L310.9 673.2 L298.2 665.6 Z" fill="#fdfdfd" stroke="#111" stroke-width="1.3" />
<path d="M298.2 665.6 L298.5 667.5 L308.3 672.7" fill="none" stroke="#111" stroke-width="1.1" />
<path d="M332.3 662 L332.3 671.2" fill="none" stroke="#111" stroke-width="1.3" />
<path d="M310.9 673.2 L310.9 675" fill="none" stroke="#111" stroke-width="1.0" />
<ellipse cx="316" cy="666.6" rx="4.6" ry="1.9" transform="rotate(-25 316 666.6)" fill="none" stroke="#111" stroke-width="1.4"/>
<path d="M315.5 715.5 L320 714 L323.6 716 L323.6 721.5 L319 723.2 L315.5 721.5 L315.5 715.5 Z" fill="#333" stroke="#111" stroke-width="1.2" />
<ellipse cx="326.2" cy="729.3" rx="1.8" ry="2.3" transform="rotate(-30 326.2 729.3)" fill="none" stroke="#111" stroke-width="1.1"/>
<line x1="318" y1="742" x2="324.5" y2="734.5" stroke="#333" stroke-width="0.9"/>
<path d="M382.8 956 L382.8 955.2 L404 942.9 L408.9 943.8" fill="none" stroke="#111" stroke-width="1.0" />
<path d="M382.8 956 L384.5 957.6" fill="none" stroke="#111" stroke-width="1.0" />
<path d="M404 942.9 L519.8 1004.1" fill="none" stroke="#111" stroke-width="1.0" />
<path d="M410.5 945.4 L519.8 1003.3" fill="none" stroke="#111" stroke-width="0.8" />
<path d="M384.5 957.6 L519.8 1029.4" fill="none" stroke="#111" stroke-width="1.0" />
<path d="M381.2 962.5 L519.8 1039.1" fill="none" stroke="#111" stroke-width="1.0" />
<path d="M368.2 968.2 L519.8 1052.2" fill="none" stroke="#111" stroke-width="1.6" />
<path d="M360 971.5 L381.2 960.9 L382.8 956" fill="none" stroke="#111" stroke-width="1.0" />
<path d="M536.9 1014.7 L600 1048.1" fill="none" stroke="#111" stroke-width="1.0" />
<path d="M536.9 1037.5 L600 1071.8" fill="none" stroke="#111" stroke-width="1.0" />
<path d="M536.9 1051.4 L576.9 1072.6" fill="none" stroke="#111" stroke-width="1.0" />
<path d="M536.9 1060.3 L563.8 1075" fill="none" stroke="#111" stroke-width="1.4" />
<ellipse cx="402.4" cy="953.5" rx="1.5" ry="1" transform="rotate(0 402.4 953.5)" fill="#333" stroke="#111" stroke-width="1.0"/>
<ellipse cx="406.5" cy="955.7" rx="1.5" ry="1" transform="rotate(0 406.5 955.7)" fill="#333" stroke="#111" stroke-width="1.0"/>
<ellipse cx="453.8" cy="984.5" rx="1.5" ry="1" transform="rotate(0 453.8 984.5)" fill="#333" stroke="#111" stroke-width="1.0"/>
<ellipse cx="462.4" cy="984" rx="1.5" ry="1" transform="rotate(0 462.4 984)" fill="#333" stroke="#111" stroke-width="1.0"/>
<ellipse cx="462.4" cy="989.4" rx="1.5" ry="1" transform="rotate(0 462.4 989.4)" fill="#333" stroke="#111" stroke-width="1.0"/>
<ellipse cx="470.9" cy="989.1" rx="1.5" ry="1" transform="rotate(0 470.9 989.1)" fill="#333" stroke="#111" stroke-width="1.0"/>
<ellipse cx="544.2" cy="1032.6" rx="1.5" ry="1" transform="rotate(0 544.2 1032.6)" fill="#333" stroke="#111" stroke-width="1.0"/>
<ellipse cx="549.1" cy="1035.1" rx="1.5" ry="1" transform="rotate(0 549.1 1035.1)" fill="#333" stroke="#111" stroke-width="1.0"/>
<ellipse cx="560.6" cy="1039.1" rx="1.5" ry="1" transform="rotate(0 560.6 1039.1)" fill="#333" stroke="#111" stroke-width="1.0"/>
<ellipse cx="560.6" cy="1044" rx="1.5" ry="1" transform="rotate(0 560.6 1044)" fill="#333" stroke="#111" stroke-width="1.0"/>
<ellipse cx="568.7" cy="1043.7" rx="1.5" ry="1" transform="rotate(0 568.7 1043.7)" fill="#333" stroke="#111" stroke-width="1.0"/>
<ellipse cx="568.7" cy="1048.6" rx="1.5" ry="1" transform="rotate(0 568.7 1048.6)" fill="#333" stroke="#111" stroke-width="1.0"/>
<ellipse cx="396.7" cy="976.4" rx="2.9" ry="1.6" transform="rotate(-25 396.7 976.4)" fill="none" stroke="#111" stroke-width="1.0"/>
<ellipse cx="415.4" cy="986.6" rx="2.9" ry="1.6" transform="rotate(-25 415.4 986.6)" fill="none" stroke="#111" stroke-width="1.0"/>
<ellipse cx="552.4" cy="1062.8" rx="2.9" ry="1.6" transform="rotate(-25 552.4 1062.8)" fill="none" stroke="#111" stroke-width="1.0"/>
<ellipse cx="589.1" cy="889.1" rx="2.9" ry="1.6" transform="rotate(-25 589.1 889.1)" fill="none" stroke="#111" stroke-width="1.0"/>
<circle cx="503.5" cy="956" r="1.3" fill="#111" stroke="#111" stroke-width="0.5"/>
<path d="M540 872.3 L556.2 862.8 L557.1 858 L578 845.7 L584.7 847.6" fill="none" stroke="#111" stroke-width="1.0" />
<path d="M578 845.7 L774 950.3" fill="none" stroke="#111" stroke-width="1.0" />
<path d="M612.3 862.8 L768.3 950.3" fill="none" stroke="#111" stroke-width="0.9" />
<path d="M591.4 876.1 L747.3 967.4" fill="none" stroke="#111" stroke-width="1.0" />
<path d="M570.4 886.6 L694.1 954.1" fill="none" stroke="#111" stroke-width="1.6" />
<path d="M540 872.3 L557.1 879.9" fill="none" stroke="#111" stroke-width="1.0" />
<path d="M557.1 879.9 L570.4 886.6" fill="none" stroke="#111" stroke-width="1.0" />
<ellipse cx="575.2" cy="856.1" rx="1.5" ry="1" transform="rotate(0 575.2 856.1)" fill="#333" stroke="#111" stroke-width="1.0"/>
<ellipse cx="579.9" cy="858" rx="1.5" ry="1" transform="rotate(0 579.9 858)" fill="#333" stroke="#111" stroke-width="1.0"/>
<ellipse cx="638.9" cy="886.6" rx="1.5" ry="1" transform="rotate(0 638.9 886.6)" fill="#333" stroke="#111" stroke-width="1.0"/>
<ellipse cx="647.5" cy="890.4" rx="1.5" ry="1" transform="rotate(0 647.5 890.4)" fill="#333" stroke="#111" stroke-width="1.0"/>
<ellipse cx="737.8" cy="940.8" rx="1.5" ry="1" transform="rotate(0 737.8 940.8)" fill="#333" stroke="#111" stroke-width="1.0"/>
<ellipse cx="745.4" cy="945.5" rx="1.5" ry="1" transform="rotate(0 745.4 945.5)" fill="#333" stroke="#111" stroke-width="1.0"/>
<ellipse cx="749.2" cy="952.2" rx="1.5" ry="1" transform="rotate(0 749.2 952.2)" fill="#333" stroke="#111" stroke-width="1.0"/>
<ellipse cx="753" cy="954.1" rx="1.5" ry="1" transform="rotate(0 753 954.1)" fill="#333" stroke="#111" stroke-width="1.0"/>
<ellipse cx="589.5" cy="889.4" rx="3.2" ry="1.5" transform="rotate(-28 589.5 889.4)" fill="none" stroke="#111" stroke-width="1.0"/>
<ellipse cx="631.3" cy="889.4" rx="3.2" ry="1.5" transform="rotate(-28 631.3 889.4)" fill="none" stroke="#111" stroke-width="1.0"/>
<ellipse cx="643.7" cy="894.2" rx="3.2" ry="1.5" transform="rotate(-28 643.7 894.2)" fill="none" stroke="#111" stroke-width="1.0"/>
<ellipse cx="684.6" cy="916" rx="3.2" ry="1.5" transform="rotate(-28 684.6 916)" fill="none" stroke="#111" stroke-width="1.0"/>
<ellipse cx="738.8" cy="949.3" rx="3.2" ry="1.5" transform="rotate(-28 738.8 949.3)" fill="none" stroke="#111" stroke-width="1.0"/>
<path d="M340 973.5 L562 851.5 C590 838 599.1 825 599.1 803 L599.1 628 C599.1 612 610 606.5 624 611 L752 684.5 C780 699 800 714 803.75 750 L803.75 918 C803.75 940 792 951 779 958 L548 1085.5 C533 1093 528.3 1080 528.3 1062 L528.3 905 C528.3 890 524 876 520.8 864 L514.5 844 C511.5 834 507 828 498.7 821.7 L380.5 756.8 C360 745.5 327 754 324 781 L324 958 C324 972 332 976 340 973.5" fill="none" stroke="#111" stroke-width="16.400000000000002" stroke-linejoin="round"/>
<path d="M340 973.5 L562 851.5 C590 838 599.1 825 599.1 803 L599.1 628 C599.1 612 610 606.5 624 611 L752 684.5 C780 699 800 714 803.75 750 L803.75 918 C803.75 940 792 951 779 958 L548 1085.5 C533 1093 528.3 1080 528.3 1062 L528.3 905 C528.3 890 524 876 520.8 864 L514.5 844 C511.5 834 507 828 498.7 821.7 L380.5 756.8 C360 745.5 327 754 324 781 L324 958 C324 972 332 976 340 973.5" fill="none" stroke="#fdfdfd" stroke-width="13.8" stroke-linejoin="round"/>
<path d="M536 895 L802.5 752.2 L806.5 754.5 L806.5 758 L799.1 759.8 L536 905.2" fill="#fdfdfd" stroke="#111" stroke-width="1.2" />
<path d="M798 752.8 L803 759.5" fill="none" stroke="#111" stroke-width="0.9" />
<path d="M790.7 777 L800.7 773 L800.7 782 L790.7 786 Z" fill="#fdfdfd" stroke="#111" stroke-width="1.1" />
<circle cx="795.7" cy="779.5" r="1.5" fill="#111" stroke="#111" stroke-width="0.5"/>
<path d="M790.7 833 L800.7 829 L800.7 838 L790.7 842 Z" fill="#fdfdfd" stroke="#111" stroke-width="1.1" />
<circle cx="795.7" cy="835.5" r="1.5" fill="#111" stroke="#111" stroke-width="0.5"/>
<clipPath id="cb1"><rect x="505" y="856" width="40" height="37"/></clipPath>
<path d="M528.3 920 L528.3 905 C528.3 890 524 876 520.8 864 L514.5 844 C511.5 834 507 828 498.7 821.7" fill="none" stroke="#111" stroke-width="16.400000000000002" stroke-linejoin="round" clip-path="url(#cb1)"/>
<path d="M528.3 920 L528.3 905 C528.3 890 524 876 520.8 864 L514.5 844 C511.5 834 507 828 498.7 821.7" fill="none" stroke="#fdfdfd" stroke-width="13.8" stroke-linejoin="round" clip-path="url(#cb1)"/>
<path d="M323.4 791 L331 786.5 L520.6 883 L520.6 917.3 L323.4 809.3 Z" fill="#fdfdfd" stroke="#111" stroke-width="1.3" />
<path d="M323.4 791 L520.6 891.8" fill="none" stroke="#111" stroke-width="1.1" />
<path d="M331.6 815.4 L520.6 912" fill="none" stroke="#111" stroke-width="0.0" />
<circle cx="336.7" cy="811.3" r="1.4" fill="none" stroke="#111" stroke-width="1.0"/>
<circle cx="509" cy="908" r="1.4" fill="none" stroke="#111" stroke-width="1.0"/>
<path d="M333 787 L345 781 L359 784 L361 792 L357 801" fill="none" stroke="#111" stroke-width="1.0" />
<circle cx="354" cy="788" r="1.3" fill="#111" stroke="#111" stroke-width="0.5"/>
<path d="M383.5 750.2 L591.9 634.2 L600.4 636.7 L600.4 656.2 L410 760.4" fill="none" stroke="#111" stroke-width="1.2" />
<path d="M589 641.5 L591.9 634.2 L600.4 636.7 L600.4 656.2 L589 662 Z" fill="#fdfdfd" stroke="#111" stroke-width="1.2" />
<path d="M390 757 L596 642" fill="none" stroke="#111" stroke-width="0.0" />
<path d="M600.4 636.7 L612 640 L616.5 642.5 L616.5 658 L610 661 L600.4 656.2" fill="#fdfdfd" stroke="#111" stroke-width="1.2" />
<path d="M606 643 L612 645.5 L612 655 L606 652.5 L606 643" fill="#555" stroke="#111" stroke-width="1.1" />
<path d="M536.5 921 L544.5 917 L544.5 926 L536.5 930 Z" fill="#fdfdfd" stroke="#111" stroke-width="1.1" />
<circle cx="540.5" cy="923.5" r="1.4" fill="#111" stroke="#111" stroke-width="0.5"/>
<path d="M536.5 962 L544.5 958 L544.5 967 L536.5 971 Z" fill="#fdfdfd" stroke="#111" stroke-width="1.1" />
<circle cx="540.5" cy="964.5" r="1.4" fill="#111" stroke="#111" stroke-width="0.5"/>
<path d="M644.6 984.5 L707.4 948.4 L710.2 950.3 L747.3 971.2 L745.4 974.1 L684.6 1007.3 L680.8 1006.4 L645.6 987.4 Z" fill="#fdfdfd" stroke="#111" stroke-width="1.3" />
<path d="M649.4 982.6 L709.3 949.3" fill="none" stroke="#111" stroke-width="1.0" />
<path d="M660.3 1001.6 L660.3 922.7 L661.7 921.7 L663.1 922.7 L663.1 1001.6" fill="#fdfdfd" stroke="#111" stroke-width="1.0" />
<path d="M728.8 961.7 L728.8 884.7 L730.2 883.7 L731.6 884.7 L731.6 961.7" fill="#fdfdfd" stroke="#111" stroke-width="1.0" />
<path d="M672.9 581.1 L680.3 576.2 L871.9 682.2 L872.7 700.1 L853.1 698.5 L853.1 701.7 L840.1 690.3 L672.9 598.2 L672.9 581.1 Z" fill="#fdfdfd" stroke="#111" stroke-width="1.2" />
<path d="M672.9 581.9 L853.1 680.6 L871.9 682.2" fill="none" stroke="#111" stroke-width="1.0" />
<path d="M853.1 680.6 L853.1 698.5" fill="none" stroke="#111" stroke-width="1.0" />
<path d="M689.2 590.9 L689.2 603.9 L674.6 595.8" fill="none" stroke="#111" stroke-width="1.0" />
<path d="M664.8 590.1 L672.9 586.8 L679.5 588.4 L677.8 594.9 L669.7 595.8 L665.1 592.5 L664.8 590.1" fill="#fdfdfd" stroke="#111" stroke-width="1.2" />
<circle cx="674.6" cy="590.9" r="1.4" fill="#111" stroke="#111" stroke-width="0.5"/>
<path d="M840.1 674.8 L840.1 703.4 L844.1 702.6 L845 696.9 L852.3 699.3" fill="none" stroke="#111" stroke-width="1.2" />
<path d="M840.1 690.3 L850.7 685.4 L853.1 683.8" fill="none" stroke="#111" stroke-width="0.9" />
<circle cx="847.4" cy="687.1" r="1.4" fill="#111" stroke="#111" stroke-width="0.5"/>
<ellipse cx="867" cy="689" rx="1.2" ry="2" transform="rotate(-20 867 689)" fill="none" stroke="#111" stroke-width="1.0"/>
<line x1="776.5" y1="620.2" x2="776.5" y2="629.2" stroke="#333" stroke-width="0.9"/>
<path d="M503.5 772.1 L506.4 768.5 L517.1 763.5 L529.9 756.4 L534.2 756.4 L539.9 762.1 L544.9 771.3 L554.2 777.8 L552 782 L548.5 787 L539.9 789.2 L532.8 791.3 L529.9 794.9 L519.9 796.3 L511.4 790.6 L504.3 779.2 L503.5 772.1 Z" fill="#fdfdfd" stroke="#111" stroke-width="1.3" />
<path d="M507.8 770.6 L514.2 767.8 L519.2 782 L515 784.2 L507.8 772.1 Z" fill="none" stroke="#111" stroke-width="1.1" />
<path d="M515.7 764.2 L515 767.8 L517.1 774.9 L521.4 782 L524.2 786.3 L532.8 789.2 L539.9 787.7" fill="none" stroke="#111" stroke-width="1.1" />
<path d="M513.5 789.2 L537.8 777" fill="none" stroke="#111" stroke-width="1.0" />
<path d="M529.9 794.9 L531.4 792 L535.6 791.7 L539.2 793.4 L537.8 796.3 L534.2 796.3" fill="none" stroke="#111" stroke-width="1.1" />
<path d="M547 787 L549.2 784.2 L552 784.5" fill="none" stroke="#111" stroke-width="1.1" />
<path d="M538.5 765 L538.5 784.2 L544.9 784.2 L544.9 765" fill="#fdfdfd" stroke="#111" stroke-width="1.1" />
<ellipse cx="541.7" cy="765" rx="3.2" ry="1.5" transform="rotate(0 541.7 765)" fill="#fdfdfd" stroke="#111" stroke-width="1.0"/>
<rect x="538.8" y="766.5" width="5.8" height="7.9" fill="#222"/>
<ellipse cx="541" cy="744.2" rx="6.8" ry="2.7" transform="rotate(0 541 744.2)" fill="#fdfdfd" stroke="#111" stroke-width="1.1"/>
<path d="M536.1 739.4 L536.1 743.9 Q541 745.8 545.9 743.9 L545.9 739.4" fill="#fdfdfd" stroke="#111" stroke-width="1.2" />
<line x1="539.3" y1="741.2" x2="539.3" y2="745" stroke="#222" stroke-width="0.9"/>
<line x1="542.7" y1="741.2" x2="542.7" y2="745" stroke="#222" stroke-width="0.9"/>
<ellipse cx="541" cy="739.4" rx="4.9" ry="2.6" transform="rotate(0 541 739.4)" fill="#fdfdfd" stroke="#111" stroke-width="1.2"/>
<ellipse cx="541" cy="739.4" rx="2.4" ry="1.2" transform="rotate(0 541 739.4)" fill="none" stroke="#111" stroke-width="1.0"/>
<path d="M524.4 802.7 L525.2 805.4 Q529.2 807.8 533.2 805.4 L534 802.7" fill="#fdfdfd" stroke="#111" stroke-width="1.1" />
<ellipse cx="529.2" cy="802.2" rx="5.7" ry="3" transform="rotate(0 529.2 802.2)" fill="#fdfdfd" stroke="#111" stroke-width="1.2"/>
<ellipse cx="529.2" cy="802" rx="2.3" ry="1.1" transform="rotate(0 529.2 802)" fill="none" stroke="#111" stroke-width="1.1"/>
<path d="M524.9 804.7 Q529.2 806.6 533.5 804.7" fill="none" stroke="#444" stroke-width="1.6" />
<line x1="540.5" y1="727.5" x2="540.5" y2="736.2" stroke="#333" stroke-width="0.9"/>
<line x1="494" y1="773.5" x2="503.5" y2="773.5" stroke="#333" stroke-width="0.9"/>
<line x1="530" y1="807.5" x2="530" y2="818.5" stroke="#333" stroke-width="0.9"/>
<path d="M225 918.1 L227.9 914.5 L238.6 909.5 L251.4 902.4 L255.7 902.4 L261.4 908.1 L266.4 917.3 L275.7 923.8 L273.5 928 L270 933 L261.4 935.2 L254.3 937.3 L251.4 940.9 L241.4 942.3 L232.9 936.6 L225.8 925.2 L225 918.1 Z" fill="#fdfdfd" stroke="#111" stroke-width="1.3" />
<path d="M229.3 916.6 L235.7 913.8 L240.7 928 L236.5 930.2 L229.3 918.1 Z" fill="none" stroke="#111" stroke-width="1.1" />
<path d="M237.2 910.2 L236.5 913.8 L238.6 920.9 L242.9 928 L245.7 932.3 L254.3 935.2 L261.4 933.7" fill="none" stroke="#111" stroke-width="1.1" />
<path d="M235 935.2 L259.3 923" fill="none" stroke="#111" stroke-width="1.0" />
<path d="M251.4 940.9 L252.9 938 L257.1 937.7 L260.7 939.4 L259.3 942.3 L255.7 942.3" fill="none" stroke="#111" stroke-width="1.1" />
<path d="M268.5 933 L270.7 930.2 L273.5 930.5" fill="none" stroke="#111" stroke-width="1.1" />
<path d="M260 911 L260 930.2 L266.4 930.2 L266.4 911" fill="#fdfdfd" stroke="#111" stroke-width="1.1" />
<ellipse cx="263.2" cy="911" rx="3.2" ry="1.5" transform="rotate(0 263.2 911)" fill="#fdfdfd" stroke="#111" stroke-width="1.0"/>
<rect x="260.3" y="912.5" width="5.8" height="7.9" fill="#222"/>
<ellipse cx="261.9" cy="887.9" rx="6.9" ry="3.1" transform="rotate(0 261.9 887.9)" fill="#fdfdfd" stroke="#111" stroke-width="1.1"/>
<path d="M256.9 882.2 L256.9 887.5 Q261.9 889.8 266.8 887.5 L266.8 882.2" fill="#fdfdfd" stroke="#111" stroke-width="1.2" />
<line x1="260.2" y1="884.4" x2="260.2" y2="888.8" stroke="#222" stroke-width="0.9"/>
<line x1="263.6" y1="884.4" x2="263.6" y2="888.8" stroke="#222" stroke-width="0.9"/>
<ellipse cx="261.9" cy="882.2" rx="5" ry="3" transform="rotate(0 261.9 882.2)" fill="#fdfdfd" stroke="#111" stroke-width="1.2"/>
<ellipse cx="261.9" cy="882.2" rx="2.5" ry="1.4" transform="rotate(0 261.9 882.2)" fill="none" stroke="#111" stroke-width="1.0"/>
<path d="M245.9 948.7 L246.7 951.4 Q250.7 953.8 254.7 951.4 L255.5 948.7" fill="#fdfdfd" stroke="#111" stroke-width="1.1" />
<ellipse cx="250.7" cy="948.2" rx="5.7" ry="3" transform="rotate(0 250.7 948.2)" fill="#fdfdfd" stroke="#111" stroke-width="1.2"/>
<ellipse cx="250.7" cy="948" rx="2.3" ry="1.1" transform="rotate(0 250.7 948)" fill="none" stroke="#111" stroke-width="1.1"/>
<path d="M246.4 950.7 Q250.7 952.6 255 950.7" fill="none" stroke="#444" stroke-width="1.6" />
<line x1="261.8" y1="870.5" x2="261.8" y2="878.8" stroke="#333" stroke-width="0.9"/>
<line x1="212.5" y1="920" x2="225" y2="920" stroke="#333" stroke-width="0.9"/>
<line x1="251.5" y1="953.5" x2="251.5" y2="962.5" stroke="#333" stroke-width="0.9"/>
<path d="M658.5 1102.7 L653.8 1104.8 L650.4 1111.6 L657.2 1117.7 L665.3 1117 L668 1115" fill="#fdfdfd" stroke="#111" stroke-width="1.3" />
<path d="M655.8 1098 L674.8 1086.4 L684.3 1102.1 L666 1112.9 L655.8 1098" fill="#fdfdfd" stroke="#111" stroke-width="0.0" />
<path d="M655.8 1098 L664 1112.9" fill="none" stroke="#111" stroke-width="1.2" />
<path d="M664 1092.6 L672.8 1108.2" fill="none" stroke="#111" stroke-width="1.2" />
<path d="M674.8 1086.4 L684.3 1102.1" fill="none" stroke="#111" stroke-width="1.2" />
<path d="M664 1113.6 L688.4 1100.7 L689.4 1101.5 L664.6 1115 L664 1113.6" fill="#fdfdfd" stroke="#111" stroke-width="1.2" />
<path d="M638.2 1094.6 L642.6 1086.4 L640.9 1085.1 L640.9 1082.7 L643.6 1081.3 L645.6 1083 L648 1084.4" fill="none" stroke="#111" stroke-width="1.2" />
<path d="M654.8 1082.4 L660.6 1082 L668.7 1085.8" fill="none" stroke="#111" stroke-width="1.2" />
<path d="M638.2 1094.6 L647 1100.4" fill="none" stroke="#111" stroke-width="1.6" />
<path d="M647 1100 L677.6 1082.7 L678.6 1083.9 L647.3 1101.2 L647 1100" fill="#fdfdfd" stroke="#111" stroke-width="1.2" />
<path d="M648 1071 L648 1091.2 L654.8 1091.2 L654.8 1071" fill="#fdfdfd" stroke="#111" stroke-width="1.1" />
<ellipse cx="651.4" cy="1071" rx="3.4" ry="1.5" transform="rotate(0 651.4 1071)" fill="#fdfdfd" stroke="#111" stroke-width="1.0"/>
<rect x="648.3" y="1072.5" width="6.2" height="8.3" fill="#222"/>
<ellipse cx="651.5" cy="1062" rx="6.4" ry="2.8" transform="rotate(0 651.5 1062)" fill="#fdfdfd" stroke="#111" stroke-width="1.1"/>
<path d="M646.8 1056.9 L646.8 1061.6 Q651.5 1063.7 656.1 1061.6 L656.1 1056.9" fill="#fdfdfd" stroke="#111" stroke-width="1.2" />
<line x1="649.8" y1="1058.8" x2="649.8" y2="1062.8" stroke="#222" stroke-width="0.9"/>
<line x1="653.1" y1="1058.8" x2="653.1" y2="1062.8" stroke="#222" stroke-width="0.9"/>
<ellipse cx="651.5" cy="1056.9" rx="4.6" ry="2.7" transform="rotate(0 651.5 1056.9)" fill="#fdfdfd" stroke="#111" stroke-width="1.2"/>
<ellipse cx="651.5" cy="1056.9" rx="2.3" ry="1.2" transform="rotate(0 651.5 1056.9)" fill="none" stroke="#111" stroke-width="1.0"/>
<path d="M659.2 1124.4 L659.9 1127.4 Q663.2 1130.1 666.6 1127.4 L667.3 1124.4" fill="#fdfdfd" stroke="#111" stroke-width="1.1" />
<ellipse cx="663.2" cy="1123.7" rx="4.8" ry="3.3" transform="rotate(0 663.2 1123.7)" fill="#fdfdfd" stroke="#111" stroke-width="1.2"/>
<ellipse cx="663.2" cy="1123.6" rx="1.9" ry="1.2" transform="rotate(0 663.2 1123.6)" fill="none" stroke="#111" stroke-width="1.1"/>
<path d="M659.7 1126.6 Q663.2 1128.8 666.8 1126.6" fill="none" stroke="#444" stroke-width="1.6" />
<line x1="657.9" y1="1061.2" x2="668" y2="1061.2" stroke="#333" stroke-width="0.9"/>
<line x1="689.5" y1="1100.7" x2="700" y2="1100.7" stroke="#333" stroke-width="0.9"/>
<line x1="668" y1="1123.8" x2="679" y2="1123.8" stroke="#333" stroke-width="0.9"/>
<path d="M833 988.7 L828.3 990.8 L824.9 997.6 L831.7 1003.7 L839.8 1003 L842.5 1001" fill="#fdfdfd" stroke="#111" stroke-width="1.3" />
<path d="M830.3 984 L849.3 972.4 L858.8 988.1 L840.5 998.9 L830.3 984" fill="#fdfdfd" stroke="#111" stroke-width="0.0" />
<path d="M830.3 984 L838.5 998.9" fill="none" stroke="#111" stroke-width="1.2" />
<path d="M838.5 978.6 L847.3 994.2" fill="none" stroke="#111" stroke-width="1.2" />
<path d="M849.3 972.4 L858.8 988.1" fill="none" stroke="#111" stroke-width="1.2" />
<path d="M838.5 999.6 L862.9 986.7 L863.9 987.5 L839.1 1001 L838.5 999.6" fill="#fdfdfd" stroke="#111" stroke-width="1.2" />
<path d="M812.7 980.6 L817.1 972.4 L815.4 971.1 L815.4 968.7 L818.1 967.3 L820.1 969 L822.5 970.4" fill="none" stroke="#111" stroke-width="1.2" />
<path d="M829.3 968.4 L835.1 968 L843.2 971.8" fill="none" stroke="#111" stroke-width="1.2" />
<path d="M812.7 980.6 L821.5 986.4" fill="none" stroke="#111" stroke-width="1.6" />
<path d="M821.5 986 L852.1 968.7 L853.1 969.9 L821.8 987.2 L821.5 986" fill="#fdfdfd" stroke="#111" stroke-width="1.2" />
<path d="M822.5 957 L822.5 977.2 L829.3 977.2 L829.3 957" fill="#fdfdfd" stroke="#111" stroke-width="1.1" />
<ellipse cx="825.9" cy="957" rx="3.4" ry="1.5" transform="rotate(0 825.9 957)" fill="#fdfdfd" stroke="#111" stroke-width="1.0"/>
<rect x="822.8" y="958.5" width="6.2" height="8.3" fill="#222"/>
<ellipse cx="825.5" cy="947.9" rx="6.8" ry="2.7" transform="rotate(0 825.5 947.9)" fill="#fdfdfd" stroke="#111" stroke-width="1.1"/>
<path d="M820.7 943 L820.7 947.6 Q825.5 949.5 830.4 947.6 L830.4 943" fill="#fdfdfd" stroke="#111" stroke-width="1.2" />
<line x1="823.9" y1="944.9" x2="823.9" y2="948.6" stroke="#222" stroke-width="0.9"/>
<line x1="827.2" y1="944.9" x2="827.2" y2="948.6" stroke="#222" stroke-width="0.9"/>
<ellipse cx="825.5" cy="943" rx="4.9" ry="2.6" transform="rotate(0 825.5 943)" fill="#fdfdfd" stroke="#111" stroke-width="1.2"/>
<ellipse cx="825.5" cy="943" rx="2.4" ry="1.2" transform="rotate(0 825.5 943)" fill="none" stroke="#111" stroke-width="1.0"/>
<path d="M833.7 1010.4 L834.4 1013.4 Q837.8 1016.1 841.1 1013.4 L841.8 1010.4" fill="#fdfdfd" stroke="#111" stroke-width="1.1" />
<ellipse cx="837.8" cy="1009.7" rx="4.8" ry="3.3" transform="rotate(0 837.8 1009.7)" fill="#fdfdfd" stroke="#111" stroke-width="1.2"/>
<ellipse cx="837.8" cy="1009.6" rx="1.9" ry="1.2" transform="rotate(0 837.8 1009.6)" fill="none" stroke="#111" stroke-width="1.1"/>
<path d="M834.2 1012.6 Q837.8 1014.8 841.3 1012.6" fill="none" stroke="#444" stroke-width="1.6" />
<line x1="828.3" y1="931.5" x2="828.3" y2="940" stroke="#333" stroke-width="0.9"/>
<line x1="803.3" y1="980" x2="813.6" y2="980" stroke="#333" stroke-width="0.9"/>
<line x1="837.6" y1="1016.5" x2="837.6" y2="1026.5" stroke="#333" stroke-width="0.9"/>
<path d="M401.3 1006.3 L401.3 1011.4 L404.3 1011.4 L404.3 1006.3" fill="#fdfdfd" stroke="#111" stroke-width="1.1" />
<ellipse cx="402.8" cy="1005.7" rx="3.7" ry="1.4" transform="rotate(0 402.8 1005.7)" fill="#fdfdfd" stroke="#111" stroke-width="1.1"/>
<path d="M400.6 1005.1 L400.6 1001.7 L402.8 1000 L405 1001.7 L405 1005.1" fill="#fdfdfd" stroke="#111" stroke-width="1.1" />
<line x1="402.8" y1="1001" x2="402.8" y2="1004.8" stroke="#222" stroke-width="0.8"/>
<path d="M393.4 1020.6 L394.5 1033.5 Q402.6 1037.1 410.8 1033.5 L411.9 1020.6" fill="#fdfdfd" stroke="#111" stroke-width="1.2" />
<ellipse cx="402.6" cy="1020.6" rx="9.2" ry="4.3" transform="rotate(0 402.6 1020.6)" fill="#fdfdfd" stroke="#111" stroke-width="1.2"/>
<ellipse cx="402.2" cy="1020.2" rx="1.9" ry="1.6" transform="rotate(0 402.2 1020.2)" fill="none" stroke="#111" stroke-width="0.9"/>
<circle cx="405.9" cy="1022.2" r="1.3" fill="none" stroke="#111" stroke-width="0.9"/>
<line x1="388.5" y1="1004.1" x2="399" y2="1004.1" stroke="#333" stroke-width="0.9"/>
<line x1="402.4" y1="1037.5" x2="402.4" y2="1046" stroke="#333" stroke-width="0.9"/>
<path d="M750.9 1001.3 L750.9 1006.4 L754.3 1006.4 L754.3 1001.3" fill="#fdfdfd" stroke="#111" stroke-width="1.1" />
<ellipse cx="752.6" cy="1000.7" rx="4.3" ry="1.4" transform="rotate(0 752.6 1000.7)" fill="#fdfdfd" stroke="#111" stroke-width="1.1"/>
<path d="M750 1000.1 L750 996.7 L752.6 995 L755.2 996.7 L755.2 1000.1" fill="#fdfdfd" stroke="#111" stroke-width="1.1" />
<line x1="752.6" y1="996" x2="752.6" y2="999.8" stroke="#222" stroke-width="0.8"/>
<path d="M742.6 1013.8 L743.7 1027.7 Q752.1 1031.5 760.5 1027.7 L761.6 1013.8" fill="#fdfdfd" stroke="#111" stroke-width="1.2" />
<ellipse cx="752.1" cy="1013.8" rx="9.5" ry="4.6" transform="rotate(0 752.1 1013.8)" fill="#fdfdfd" stroke="#111" stroke-width="1.2"/>
<ellipse cx="751.6" cy="1013.4" rx="1.9" ry="1.7" transform="rotate(0 751.6 1013.4)" fill="none" stroke="#111" stroke-width="0.9"/>
<circle cx="755.4" cy="1015.5" r="1.3" fill="none" stroke="#111" stroke-width="0.9"/>
<line x1="756.9" y1="999.7" x2="766.4" y2="999.7" stroke="#333" stroke-width="0.9"/>
<line x1="752.1" y1="1031.5" x2="752.1" y2="1040.6" stroke="#333" stroke-width="0.9"/>
<path d="M574 903.7 L574 908.4 L577.4 908.4 L577.4 903.7" fill="#fdfdfd" stroke="#111" stroke-width="1.1" />
<ellipse cx="575.7" cy="903.2" rx="4.3" ry="1.2" transform="rotate(0 575.7 903.2)" fill="#fdfdfd" stroke="#111" stroke-width="1.1"/>
<path d="M573.1 902.7 L573.1 899.6 L575.7 898 L578.3 899.6 L578.3 902.7" fill="#fdfdfd" stroke="#111" stroke-width="1.1" />
<line x1="575.7" y1="899" x2="575.7" y2="902.4" stroke="#222" stroke-width="0.8"/>
<path d="M565.7 916.6 L566.8 929.8 Q575.2 933.4 583.6 929.8 L584.7 916.6" fill="#fdfdfd" stroke="#111" stroke-width="1.2" />
<ellipse cx="575.2" cy="916.6" rx="9.5" ry="4.4" transform="rotate(0 575.2 916.6)" fill="#fdfdfd" stroke="#111" stroke-width="1.2"/>
<ellipse cx="574.7" cy="916.2" rx="1.9" ry="1.6" transform="rotate(0 574.7 916.2)" fill="none" stroke="#111" stroke-width="0.9"/>
<circle cx="578.5" cy="918.2" r="1.3" fill="none" stroke="#111" stroke-width="0.9"/>
<path d="M547.9 1107.8 L547.9 1113 L551.5 1113 L551.5 1107.8" fill="#fdfdfd" stroke="#111" stroke-width="1.1" />
<ellipse cx="549.7" cy="1107.2" rx="4.5" ry="1.4" transform="rotate(0 549.7 1107.2)" fill="#fdfdfd" stroke="#111" stroke-width="1.1"/>
<path d="M547 1106.6 L547 1103.1 L549.7 1101.4 L552.4 1103.1 L552.4 1106.6" fill="#fdfdfd" stroke="#111" stroke-width="1.1" />
<line x1="549.7" y1="1102.4" x2="549.7" y2="1106.3" stroke="#222" stroke-width="0.8"/>
<path d="M540 1118.8 L541.1 1132.4 Q549 1136.1 556.9 1132.4 L558 1118.8" fill="#fdfdfd" stroke="#111" stroke-width="1.2" />
<ellipse cx="549" cy="1118.8" rx="9" ry="4.5" transform="rotate(0 549 1118.8)" fill="#fdfdfd" stroke="#111" stroke-width="1.2"/>
<ellipse cx="548.5" cy="1118.4" rx="1.8" ry="1.6" transform="rotate(0 548.5 1118.4)" fill="none" stroke="#111" stroke-width="0.9"/>
<circle cx="552.1" cy="1120.5" r="1.3" fill="none" stroke="#111" stroke-width="0.9"/>
<path d="M674.3 837.5 L674.5 849 Q684 856.5 693.8 849 L694 837.5" fill="#fdfdfd" stroke="#111" stroke-width="1.2" />
<ellipse cx="684.1" cy="837.2" rx="9.9" ry="4.2" transform="rotate(0 684.1 837.2)" fill="#fdfdfd" stroke="#111" stroke-width="1.2"/>
<path d="M675 846 Q684 852 693.5 846" fill="none" stroke="#111" stroke-width="0.8" />
<path d="M681.2 853 L681.2 866.6 L686.3 866.6 L686.3 853" fill="#fdfdfd" stroke="#111" stroke-width="1.0" />
<line x1="681.2" y1="857" x2="686.3" y2="856" stroke="#222" stroke-width="0.8"/>
<line x1="681.2" y1="859.5" x2="686.3" y2="858.5" stroke="#222" stroke-width="0.8"/>
<line x1="681.2" y1="862" x2="686.3" y2="861" stroke="#222" stroke-width="0.8"/>
<line x1="681.2" y1="864.5" x2="686.3" y2="863.5" stroke="#222" stroke-width="0.8"/>
<line x1="694.1" y1="844.1" x2="701.7" y2="844.1" stroke="#333" stroke-width="0.9"/>
<ellipse cx="683.6" cy="877.3" rx="6.6" ry="2.4" transform="rotate(0 683.6 877.3)" fill="#fdfdfd" stroke="#111" stroke-width="1.1"/>
<path d="M678.9 873.1 L678.9 877 Q683.6 878.8 688.4 877 L688.4 873.1" fill="#fdfdfd" stroke="#111" stroke-width="1.2" />
<line x1="682" y1="874.7" x2="682" y2="878" stroke="#222" stroke-width="0.9"/>
<line x1="685.3" y1="874.7" x2="685.3" y2="878" stroke="#222" stroke-width="0.9"/>
<ellipse cx="683.6" cy="873.1" rx="4.8" ry="2.3" transform="rotate(0 683.6 873.1)" fill="#fdfdfd" stroke="#111" stroke-width="1.2"/>
<ellipse cx="683.6" cy="873.1" rx="2.4" ry="1" transform="rotate(0 683.6 873.1)" fill="none" stroke="#111" stroke-width="1.0"/>
<path d="M678 886.6 L679 889.6 Q683.6 892.2 688.3 889.6 L689.3 886.6" fill="#fdfdfd" stroke="#111" stroke-width="1.1" />
<ellipse cx="683.6" cy="886" rx="6.6" ry="3.3" transform="rotate(0 683.6 886)" fill="#fdfdfd" stroke="#111" stroke-width="1.2"/>
<ellipse cx="683.6" cy="885.8" rx="2.7" ry="1.2" transform="rotate(0 683.6 885.8)" fill="none" stroke="#111" stroke-width="1.1"/>
<path d="M678.7 888.7 Q683.6 890.9 688.6 888.7" fill="none" stroke="#444" stroke-width="1.6" />
<line x1="690.3" y1="876.1" x2="698" y2="876.1" stroke="#333" stroke-width="0.9"/>
<path d="M1018 456.5 L1127 396.5" fill="none" stroke="#111" stroke-width="5.0" stroke-linecap="round"/>
<path d="M1018 456.5 L1127 396.5" fill="none" stroke="#fdfdfd" stroke-width="3.0" stroke-linecap="round"/>
<path d="M1018 456.5 L1033.3 448.1" fill="none" stroke="#222" stroke-width="5.0" stroke-linecap="round"/>
<ellipse cx="1130.5" cy="394.8" rx="3.8" ry="5.5" transform="rotate(-30 1130.5 394.8)" fill="#fdfdfd" stroke="#111" stroke-width="1.2"/>
<ellipse cx="1131.3" cy="394.4" rx="2.5" ry="3.8" transform="rotate(-30 1131.3 394.4)" fill="#fdfdfd" stroke="#111" stroke-width="1.0"/>
<ellipse cx="1004.1" cy="465.1" rx="7" ry="10.2" transform="rotate(-30 1004.1 465.1)" fill="#fdfdfd" stroke="#111" stroke-width="1.2"/>
<ellipse cx="1004.3" cy="465.1" rx="1.8" ry="2.4" transform="rotate(-30 1004.3 465.1)" fill="none" stroke="#111" stroke-width="1.0"/>
<line x1="999.8" y1="448" x2="1002" y2="455" stroke="#333" stroke-width="0.9"/>
<line x1="1084.6" y1="407" x2="1089.4" y2="413.8" stroke="#333" stroke-width="0.9"/>
<path d="M1118 488.2 L1208.5 439.5" fill="none" stroke="#111" stroke-width="4.2" stroke-linecap="round"/>
<path d="M1118 488.2 L1208.5 439.5" fill="none" stroke="#fdfdfd" stroke-width="2.2" stroke-linecap="round"/>
<path d="M1118 488.2 L1128.9 482.4" fill="none" stroke="#222" stroke-width="4.2" stroke-linecap="round"/>
<ellipse cx="1210.3" cy="438.6" rx="2" ry="2.8" transform="rotate(-30 1210.3 438.6)" fill="#fdfdfd" stroke="#111" stroke-width="1.2"/>
<ellipse cx="1211.1" cy="438.2" rx="1.3" ry="2" transform="rotate(-30 1211.1 438.2)" fill="#fdfdfd" stroke="#111" stroke-width="1.0"/>
<path d="M1120.5 514.5 L1194 474" fill="none" stroke="#111" stroke-width="4.2" stroke-linecap="round"/>
<path d="M1120.5 514.5 L1194 474" fill="none" stroke="#fdfdfd" stroke-width="2.2" stroke-linecap="round"/>
<path d="M1120.5 514.5 L1129.3 509.6" fill="none" stroke="#222" stroke-width="4.2" stroke-linecap="round"/>
<ellipse cx="1196.8" cy="472.7" rx="2.3" ry="3.3" transform="rotate(-30 1196.8 472.7)" fill="#fdfdfd" stroke="#111" stroke-width="1.2"/>
<ellipse cx="1197.6" cy="472.3" rx="1.5" ry="2.3" transform="rotate(-30 1197.6 472.3)" fill="#fdfdfd" stroke="#111" stroke-width="1.0"/>
<path d="M1178 538 L1251 498" fill="none" stroke="#111" stroke-width="4.2" stroke-linecap="round"/>
<path d="M1178 538 L1251 498" fill="none" stroke="#fdfdfd" stroke-width="2.2" stroke-linecap="round"/>
<path d="M1178 538 L1186.8 533.2" fill="none" stroke="#222" stroke-width="4.2" stroke-linecap="round"/>
<ellipse cx="1254" cy="496.3" rx="2.3" ry="3.3" transform="rotate(-30 1254 496.3)" fill="#fdfdfd" stroke="#111" stroke-width="1.2"/>
<ellipse cx="1254.8" cy="495.9" rx="1.5" ry="2.3" transform="rotate(-30 1254.8 495.9)" fill="#fdfdfd" stroke="#111" stroke-width="1.0"/>
<path d="M1204 560.5 L1294 511" fill="none" stroke="#111" stroke-width="4.2" stroke-linecap="round"/>
<path d="M1204 560.5 L1294 511" fill="none" stroke="#fdfdfd" stroke-width="2.2" stroke-linecap="round"/>
<path d="M1204 560.5 L1214.8 554.6" fill="none" stroke="#222" stroke-width="4.2" stroke-linecap="round"/>
<ellipse cx="1296.5" cy="510" rx="2" ry="2.8" transform="rotate(-30 1296.5 510)" fill="#fdfdfd" stroke="#111" stroke-width="1.2"/>
<ellipse cx="1297.3" cy="509.6" rx="1.3" ry="2" transform="rotate(-30 1297.3 509.6)" fill="#fdfdfd" stroke="#111" stroke-width="1.0"/>
<ellipse cx="1108.4" cy="494.5" rx="3.2" ry="3.4" transform="rotate(0 1108.4 494.5)" fill="#333" stroke="#111" stroke-width="1.2"/>
<circle cx="1108.4" cy="494.5" r="1.2" fill="#fdfdfd" stroke="#111" stroke-width="0.6"/>
<ellipse cx="1190.3" cy="568.6" rx="3.2" ry="3.4" transform="rotate(0 1190.3 568.6)" fill="#333" stroke="#111" stroke-width="1.2"/>
<circle cx="1190.3" cy="568.6" r="1.2" fill="#fdfdfd" stroke="#111" stroke-width="0.6"/>
<line x1="1160.3" y1="451.5" x2="1165.3" y2="460" stroke="#333" stroke-width="0.9"/>
<line x1="1169" y1="493.5" x2="1174" y2="499.5" stroke="#333" stroke-width="0.9"/>
<line x1="1210.3" y1="508.5" x2="1214" y2="516.5" stroke="#333" stroke-width="0.9"/>
<line x1="1270.3" y1="527.5" x2="1277.7" y2="534" stroke="#333" stroke-width="0.9"/>
<line x1="1190.3" y1="572.5" x2="1190.3" y2="582" stroke="#333" stroke-width="0.9"/>
<path d="M873.9 499.6 L936.3 465" fill="none" stroke="#111" stroke-width="4.0" stroke-linecap="round"/>
<path d="M873.9 499.6 L936.3 465" fill="none" stroke="#fdfdfd" stroke-width="1.6" stroke-linecap="round"/>
<path d="M873.9 499.6 L936.3 465" fill="none" stroke="#333" stroke-width="1.2" stroke-dasharray="0.8 0.8"/>
<path d="M887.4 502.1 L949.7 470.9" fill="none" stroke="#111" stroke-width="4.0" stroke-linecap="round"/>
<path d="M887.4 502.1 L949.7 470.9" fill="none" stroke="#fdfdfd" stroke-width="1.6" stroke-linecap="round"/>
<path d="M887.4 502.1 L949.7 470.9" fill="none" stroke="#333" stroke-width="1.2" stroke-dasharray="0.8 0.8"/>
<path d="M900.8 506.4 L963.2 474.6 L971.7 481.9 L977.8 495.4 L979.3 506.4 L976.6 513.7 L975.4 516.1 L916.1 554 L917.9 545.5 L917.9 534.5 L910.6 518.6 L900.8 506.4 Z" fill="#fdfdfd" stroke="#111" stroke-width="1.2" />
<path d="M898.4 510 L947.3 485.6" fill="none" stroke="#111" stroke-width="0.0" />
<path d="M917.9 534.5 L976.6 503.9" fill="none" stroke="#111" stroke-width="1.0" />
<path d="M963.2 474.6 L964.4 478.2 L971.7 486.8 L978.5 499" fill="none" stroke="#111" stroke-width="1.0" />
<path d="M935.7 466.6 L947.3 469.7 L960.7 472.1 L963.2 474.6" fill="none" stroke="#111" stroke-width="1.1" />
<path d="M979.7 492.9 L983.4 497.8 L981.5 508.8 L977.8 512.5" fill="none" stroke="#111" stroke-width="1.1" />
<path d="M976.6 513.7 L982.1 512.5 L981.5 516.1 L976 516.8" fill="none" stroke="#111" stroke-width="1.0" />
<path d="M963.2 474.6 L969.3 470.3 L976.6 467.2" fill="none" stroke="#111" stroke-width="1.1" />
<path d="M971.7 486.8 L977.8 483.1 L984 485.6" fill="none" stroke="#111" stroke-width="1.1" />
<ellipse cx="987.6" cy="477.6" rx="6.6" ry="13.5" transform="rotate(-22 987.6 477.6)" fill="#fdfdfd" stroke="#111" stroke-width="1.3"/>
<ellipse cx="986.4" cy="478.8" rx="4.5" ry="9.5" transform="rotate(-22 986.4 478.8)" fill="none" stroke="#111" stroke-width="1.0"/>
<path d="M976.6 467.2 L982.7 464.8 L987.6 464.8" fill="none" stroke="#111" stroke-width="1.1" />
<path d="M975.4 494.1 L982.7 491.7 L986.4 490.5" fill="none" stroke="#111" stroke-width="1.1" />
<path d="M975.4 468.5 L974.2 491.7" fill="none" stroke="#111" stroke-width="0.9" />
<path d="M979.1 468.5 L977.8 491.7" fill="none" stroke="#111" stroke-width="0.9" />
<path d="M982.7 468.5 L981.5 491.7" fill="none" stroke="#111" stroke-width="0.9" />
<path d="M882.5 507.6 L889.8 503.9 L898.4 505.7 L900.8 508.8" fill="none" stroke="#111" stroke-width="1.2" />
<path d="M883.7 512.5 L893.5 508.8 L898.4 512.5" fill="none" stroke="#111" stroke-width="1.2" />
<path d="M888.6 518.6 L898.4 512.5 L910.6 518.6 L913 523.5" fill="none" stroke="#111" stroke-width="1.2" />
<path d="M891 524.7 L900.8 523.5 L908.1 528.4 L910.6 538.1" fill="none" stroke="#111" stroke-width="1.2" />
<path d="M893.5 530.8 L903.3 529.6 L909.4 534.5" fill="none" stroke="#111" stroke-width="1.2" />
<path d="M894.7 534.5 L903.3 533.3 L910.6 540.6 L914.3 545.5" fill="none" stroke="#111" stroke-width="1.2" />
<path d="M898.4 540.6 L910.6 539.4 L915.5 549.2" fill="none" stroke="#111" stroke-width="1.2" />
<path d="M900.8 547.9 L910.6 549.2 L913 556.5" fill="none" stroke="#111" stroke-width="1.2" />
<path d="M883.7 510 L888.6 518.6" fill="none" stroke="#111" stroke-width="1.2" />
<path d="M893.5 518.6 L898.4 530.8" fill="none" stroke="#111" stroke-width="1.2" />
<path d="M902 556.5 L905.7 565.1 L909.4 562.6 L909.4 572.4 L903.3 577.3" fill="none" stroke="#111" stroke-width="1.2" />
<path d="M871.5 501.5 L876.4 496.6 L883.7 497.8" fill="none" stroke="#111" stroke-width="1.2" />
<path d="M855.6 495.4 L860.5 492.9 L861.7 497.2" fill="none" stroke="#111" stroke-width="1.2" />
<path d="M865.4 495.4 L869.6 493.5 L870.2 497.8" fill="none" stroke="#111" stroke-width="1.2" />
<path d="M903.3 557.7 L910.6 555.3 L913 560.2" fill="none" stroke="#111" stroke-width="1.2" />
<path d="M898.4 528.4 L903.3 540.6" fill="none" stroke="#111" stroke-width="1.2" />
<path d="M904.5 540.6 L910.6 550.4" fill="none" stroke="#111" stroke-width="1.2" />
<path d="M893.5 523.5 L898.4 521 L903.3 528.4 L898.4 530.8 L893.5 523.5 Z" fill="#666" stroke="#111" stroke-width="1.0" />
<path d="M898.4 534.5 L904.5 533.3 L909.4 540.6 L903.3 541.8 L898.4 534.5 Z" fill="#666" stroke="#111" stroke-width="1.0" />
<path d="M900.8 544.3 L908.1 543 L911.8 551.6 L905.7 552.8 L900.8 544.3 Z" fill="#666" stroke="#111" stroke-width="1.0" />
<path d="M891.6 512.5 L903.3 510" fill="none" stroke="#111" stroke-width="2.6" stroke-linecap="round"/>
<path d="M891.6 512.5 L903.3 510" fill="none" stroke="#fdfdfd" stroke-width="0.9" stroke-linecap="round"/>
<path d="M895.3 519.8 L909.4 518" fill="none" stroke="#111" stroke-width="2.6" stroke-linecap="round"/>
<path d="M895.3 519.8 L909.4 518" fill="none" stroke="#fdfdfd" stroke-width="0.9" stroke-linecap="round"/>
<path d="M898.4 527.1 L913 526.5" fill="none" stroke="#111" stroke-width="2.6" stroke-linecap="round"/>
<path d="M898.4 527.1 L913 526.5" fill="none" stroke="#fdfdfd" stroke-width="0.9" stroke-linecap="round"/>
<path d="M900.2 534.5 L916.1 534.5" fill="none" stroke="#111" stroke-width="2.6" stroke-linecap="round"/>
<path d="M900.2 534.5 L916.1 534.5" fill="none" stroke="#fdfdfd" stroke-width="0.9" stroke-linecap="round"/>
<path d="M902 541.8 L917.3 543" fill="none" stroke="#111" stroke-width="2.6" stroke-linecap="round"/>
<path d="M902 541.8 L917.3 543" fill="none" stroke="#fdfdfd" stroke-width="0.9" stroke-linecap="round"/>
<path d="M903.3 549.2 L916.7 551.6" fill="none" stroke="#111" stroke-width="2.6" stroke-linecap="round"/>
<path d="M903.3 549.2 L916.7 551.6" fill="none" stroke="#fdfdfd" stroke-width="0.9" stroke-linecap="round"/>
<path d="M903.9 556.5 L913 558.9" fill="none" stroke="#111" stroke-width="2.6" stroke-linecap="round"/>
<path d="M903.9 556.5 L913 558.9" fill="none" stroke="#fdfdfd" stroke-width="0.9" stroke-linecap="round"/>
<path d="M904.5 565.1 L910.6 566.9" fill="none" stroke="#111" stroke-width="2.6" stroke-linecap="round"/>
<path d="M904.5 565.1 L910.6 566.9" fill="none" stroke="#fdfdfd" stroke-width="0.9" stroke-linecap="round"/>
<ellipse cx="869.8" cy="540.8" rx="35.3" ry="46.3" transform="rotate(-21 869.8 540.8)" fill="#fdfdfd" stroke="#111" stroke-width="1.3"/>
<ellipse cx="866.6" cy="541.6" rx="35.3" ry="46.3" transform="rotate(-21 866.6 541.6)" fill="#fdfdfd" stroke="#111" stroke-width="1.4"/>
<ellipse cx="867.8" cy="541" rx="34.2" ry="45" transform="rotate(-21 867.8 541)" fill="none" stroke="#111" stroke-width="0.9"/>
<ellipse cx="866.6" cy="542.6" rx="16" ry="22.5" transform="rotate(-21 866.6 542.6)" fill="none" stroke="#111" stroke-width="1.1"/>
<ellipse cx="867.8" cy="540.1" rx="8.2" ry="11.2" transform="rotate(-21 867.8 540.1)" fill="none" stroke="#111" stroke-width="1.2"/>
<ellipse cx="867.8" cy="540.1" rx="5.2" ry="7.8" transform="rotate(-21 867.8 540.1)" fill="none" stroke="#111" stroke-width="1.4"/>
<ellipse cx="868.2" cy="539.8" rx="3.6" ry="5.6" transform="rotate(-21 868.2 539.8)" fill="none" stroke="#111" stroke-width="0.9"/>
<circle cx="867.2" cy="528.4" r="1.8" fill="none" stroke="#111" stroke-width="1.0"/>
<circle cx="856.8" cy="542.4" r="1.8" fill="none" stroke="#111" stroke-width="1.0"/>
<circle cx="877.6" cy="555.3" r="1.8" fill="none" stroke="#111" stroke-width="1.0"/>
<line x1="906" y1="471.5" x2="906" y2="479.5" stroke="#333" stroke-width="0.9"/>
<path d="M903.3 596.3 L965.2 563.7 L970.7 564.8 L981.5 570.2 L994.6 574.6 L1005.4 583.3 L1016.3 598.5 L1021.7 614.8 L1023 631.1 L1020.7 650.7 L1019.6 655 L962 687.6 L942.4 696.3" fill="#fdfdfd" stroke="#111" stroke-width="1.3" />
<path d="M907.6 598.5 L968.5 565.9" fill="none" stroke="#111" stroke-width="1.0" />
<path d="M912 599 L972.8 567" fill="none" stroke="#111" stroke-width="0.0" />
<path d="M940.2 612.6 L996.7 582.2" fill="none" stroke="#111" stroke-width="1.0" />
<path d="M941.3 615.9 L1002.2 585.4" fill="none" stroke="#111" stroke-width="1.0" />
<path d="M953.3 630 L1012 598.5" fill="none" stroke="#111" stroke-width="1.0" />
<path d="M960.9 642 L1016.3 613.7" fill="none" stroke="#111" stroke-width="1.0" />
<path d="M962 649.6 L1020.7 619.1" fill="none" stroke="#111" stroke-width="1.0" />
<path d="M960.9 678.9 L1018.5 650.7" fill="none" stroke="#111" stroke-width="1.0" />
<path d="M960.9 685.4 L1019.6 655" fill="none" stroke="#111" stroke-width="1.0" />
<path d="M981.5 570.2 L983.7 571.3" fill="none" stroke="#111" stroke-width="1.0" />
<path d="M1020.7 650.7 L1021.2 631.1 L1019.6 613.7 L1013 596.3" fill="none" stroke="#111" stroke-width="0.0" />
<path d="M889.1 611.5 L891.3 603.9 L903.3 596.3 L912 598.5 L940.2 612.6 L951.1 624.6 L959.8 642 L962 658.3 L960.9 677.8 L953.3 690.9 L942.4 696.3 L931.5 692 L907.6 680 L891.3 659.3 L885.9 639.8 L888 624.6 L889.1 611.5 Z" fill="#fdfdfd" stroke="#111" stroke-width="1.3" />
<path d="M940.2 612.6 L951.1 624.6 L959.8 642 L962 658.3 L960.9 685.4" fill="none" stroke="#111" stroke-width="1.0" />
<path d="M889.1 611.5 L888 624.6" fill="none" stroke="#111" stroke-width="1.0" />
<circle cx="905.4" cy="599.6" r="1.3" fill="none" stroke="#111" stroke-width="0.9"/>
<circle cx="945.7" cy="692.5" r="1.3" fill="none" stroke="#111" stroke-width="0.9"/>
<ellipse cx="920" cy="650.2" rx="32.8" ry="39.9" transform="rotate(-25 920 650.2)" fill="#fdfdfd" stroke="#111" stroke-width="1.3"/>
<ellipse cx="919.7" cy="650.4" rx="31.2" ry="38.2" transform="rotate(-25 919.7 650.4)" fill="none" stroke="#111" stroke-width="0.8"/>
<ellipse cx="920" cy="650.2" rx="27.5" ry="34" transform="rotate(-25 920 650.2)" fill="none" stroke="#111" stroke-width="3.6" stroke-dasharray="1.5 3.2"/>
<ellipse cx="920" cy="650.2" rx="29.3" ry="35.8" transform="rotate(-25 920 650.2)" fill="none" stroke="#111" stroke-width="0.8"/>
<clipPath id="borec"><ellipse cx="919.5" cy="649.5" rx="24.5" ry="31" transform="rotate(-25 919.5 649.5)"/></clipPath>
<g clip-path="url(#borec)"><rect x="880" y="600" width="90" height="100" fill="#fdfdfd"/><line x1="900.3" y1="622.2" x2="920.2" y2="615.2" stroke="#111" stroke-width="1.7"/><line x1="901.3" y1="626.6" x2="922.8" y2="618.7" stroke="#111" stroke-width="1.7"/><line x1="902.2" y1="631" x2="925.4" y2="622.1" stroke="#111" stroke-width="1.7"/><line x1="903.2" y1="635.4" x2="928" y2="625.6" stroke="#111" stroke-width="1.7"/><line x1="904.2" y1="639.8" x2="930.6" y2="629" stroke="#111" stroke-width="1.7"/><line x1="905.1" y1="644.2" x2="933.2" y2="632.5" stroke="#111" stroke-width="1.7"/><line x1="906.1" y1="648.5" x2="935.8" y2="635.9" stroke="#111" stroke-width="1.7"/><line x1="907.1" y1="652.9" x2="938.4" y2="639.4" stroke="#111" stroke-width="1.7"/><line x1="908.1" y1="657.3" x2="941" y2="642.8" stroke="#111" stroke-width="1.7"/><line x1="909" y1="661.7" x2="943.6" y2="646.2" stroke="#111" stroke-width="1.7"/><line x1="910" y1="666.1" x2="946.2" y2="649.7" stroke="#111" stroke-width="1.7"/><path d="M910.5 662 C912.1 663.9 910.1 668.5 913 671.5 C915.9 674.5 919.8 675.6 925.2 677 C930.6 678.4 935 679.9 940 678.5 C945 677.1 948 667.7 950 670 C952 672.3 959 686 950 690 C941 694 914 695.6 905 690 C896 684.4 903.9 667.6 905 662 C906.1 656.4 908.9 660.1 910.5 662 Z" fill="#fdfdfd" stroke="#111" stroke-width="1.1"/><line x1="925.2" y1="673.4" x2="941.9" y2="665" stroke="#111" stroke-width="1"/></g>
<ellipse cx="919.5" cy="649.5" rx="24.5" ry="31" transform="rotate(-25 919.5 649.5)" fill="none" stroke="#111" stroke-width="1.5"/>
<line x1="1022.5" y1="644" x2="1032" y2="644" stroke="#333" stroke-width="0.9"/>
<g transform="translate(889 677.5) rotate(155) scale(1.0)">
<path d="M0 -1.3 L7 -1.3 L7 1.3 L0 1.3" fill="#fdfdfd" stroke="#111" stroke-width="1"/>
<ellipse cx="0" cy="0" rx="1.6" ry="3.6" fill="#fdfdfd" stroke="#111" stroke-width="1.1"/>
<path d="M-1.5 -2.6 L-4.5 -2.2 L-5.2 0 L-4.5 2.2 L-1.5 2.6" fill="#fdfdfd" stroke="#111" stroke-width="1.1"/>
</g>
<g transform="translate(706 576) rotate(155) scale(1.0)">
<path d="M0 -1.3 L7 -1.3 L7 1.3 L0 1.3" fill="#fdfdfd" stroke="#111" stroke-width="1"/>
<ellipse cx="0" cy="0" rx="1.6" ry="3.6" fill="#fdfdfd" stroke="#111" stroke-width="1.1"/>
<path d="M-1.5 -2.6 L-4.5 -2.2 L-5.2 0 L-4.5 2.2 L-1.5 2.6" fill="#fdfdfd" stroke="#111" stroke-width="1.1"/>
</g>
<line x1="709.6" y1="576.2" x2="718.6" y2="571.3" stroke="#333" stroke-width="0.9"/>
<path d="M1043 602.1 L1082.2 624.5 L1101.3 642.4 L1103.5 644.7 L1119.2 645.8 L1122.6 641.3 L1122 634.6 L1115.9 631.2 L1110.3 630.1 L1104.7 613.3" fill="#fdfdfd" stroke="#111" stroke-width="1.3" />
<path d="M1077.8 618.9 L1093.4 616.6 L1102.4 630.1 L1104.7 635.7 L1121.5 635.7" fill="none" stroke="#111" stroke-width="1.0" />
<path d="M1082.2 622.2 L1101.3 639.1" fill="none" stroke="#111" stroke-width="1.0" />
<path d="M1086.7 618.9 L1095.7 615.5 L1100.2 630.1" fill="none" stroke="#111" stroke-width="1.0" />
<ellipse cx="1114.7" cy="636.8" rx="2.6" ry="1.6" transform="rotate(0 1114.7 636.8)" fill="none" stroke="#111" stroke-width="1.1"/>
<path d="M1025.1 590.9 L1026.2 587.5 L1032.9 585.8 L1040.8 587.5 L1048.6 602.1 L1044.1 603.2 L1027.3 597.6 L1025.1 590.9 Z" fill="#fdfdfd" stroke="#111" stroke-width="1.2" />
<path d="M1026.2 590.9 L1040.8 597.6 L1048.6 602.1" fill="none" stroke="#111" stroke-width="0.9" />
<ellipse cx="1032.9" cy="590.9" rx="2.5" ry="1.5" transform="rotate(0 1032.9 590.9)" fill="none" stroke="#111" stroke-width="1.1"/>
<path d="M1063.2 504 C1067.7 503.1 1066.6 501 1076.6 501.2 C1086.7 501.4 1080.4 497.8 1093.4 504.6 C1106.5 511.3 1103.9 509.4 1115.9 521.4 C1127.8 533.3 1122.6 526.6 1129.3 540.4 C1136 554.3 1133.6 549.8 1136 562.8 C1138.5 575.9 1137.7 568.4 1136.6 579.7 C1135.5 590.9 1137.7 587.1 1132.7 596.5 C1127.6 605.8 1128.9 602.4 1121.5 607.7 C1114 612.9 1117.4 609.9 1110.3 612.2 C1103.2 614.4 1103.5 613.7 1100.2 614.4" fill="none" stroke="#111" stroke-width="1.4" />
<path d="M1136 562.8 L1136 579.7" fill="none" stroke="#111" stroke-width="0.0" />
<path d="M1119.8 583 L1136 578.5" fill="none" stroke="#111" stroke-width="1.0" />
<path d="M1119.8 586.6 L1136 582.1" fill="none" stroke="#111" stroke-width="1.0" />
<path d="M1119.8 590.2 L1136 585.7" fill="none" stroke="#111" stroke-width="1.0" />
<path d="M1119.8 593.8 L1136 589.3" fill="none" stroke="#111" stroke-width="1.0" />
<path d="M1119.8 597.4 L1136 592.9" fill="none" stroke="#111" stroke-width="1.0" />
<path d="M1119.8 600.9 L1136 596.5" fill="none" stroke="#111" stroke-width="1.0" />
<path d="M1119.8 604.5 L1136 600.1" fill="none" stroke="#111" stroke-width="1.0" />
<path d="M1037.4 505.7 L1040.8 503.4 L1044.7 503.4 L1044.7 497.8 L1048.6 494.5 L1055.3 495 L1058.1 499 L1058.1 502.3 L1063.2 504 L1074.4 513.5 L1067.7 518 L1057.6 515.8 L1054.2 519.1 L1037.4 519.1 L1037.4 505.7 Z" fill="#fdfdfd" stroke="#111" stroke-width="1.2" />
<ellipse cx="1050.6" cy="498.1" rx="2.4" ry="1.4" transform="rotate(0 1050.6 498.1)" fill="none" stroke="#111" stroke-width="1.1"/>
<path d="M1044.7 503.4 L1052 506.8 L1058.1 502.3" fill="none" stroke="#111" stroke-width="1.0" />
<path d="M1052 506.8 L1052 512.4 L1057.6 515.8" fill="none" stroke="#111" stroke-width="1.0" />
<circle cx="1053.7" cy="506.8" r="1.3" fill="none" stroke="#111" stroke-width="1.0"/>
<circle cx="1055.9" cy="514.1" r="1.3" fill="none" stroke="#111" stroke-width="1.0"/>
<path d="M1028.4 548.3 L1022.3 552.8 L1023.4 558.4 L1028.4 559.5" fill="#fdfdfd" stroke="#111" stroke-width="1.1" />
<circle cx="1025.3" cy="556.7" r="1.4" fill="none" stroke="#111" stroke-width="1.0"/>
<ellipse cx="1067.4" cy="566.8" rx="38" ry="50.8" transform="rotate(-25 1067.4 566.8)" fill="#fdfdfd" stroke="#111" stroke-width="1.3"/>
<path d="M1057.6 520.3 C1057.8 525.1 1055.9 524 1058.1 534.8 C1060.4 545.7 1058.5 540.1 1064.3 552.8 C1070.1 565.5 1067.7 561 1075.5 572.9 C1083.4 584.9 1081.9 580.4 1087.8 588.6 C1093.8 596.8 1091.6 594.6 1093.4 597.6" fill="none" stroke="#111" stroke-width="1.0" />
<path d="M1031.8 534.8 L1056.5 521.4" fill="none" stroke="#111" stroke-width="1.0" />
<path d="M1032.9 555 L1062.1 542.7" fill="none" stroke="#111" stroke-width="1.0" />
<path d="M1041.9 577.4 L1068.8 564" fill="none" stroke="#111" stroke-width="1.0" />
<path d="M1050.9 593.1 L1077.8 579.7" fill="none" stroke="#111" stroke-width="1.0" />
<path d="M1062.1 605.4 L1086.7 593.1" fill="none" stroke="#111" stroke-width="1.0" />
<path d="M1032.9 534.8 L1056.5 522.5" fill="none" stroke="#111" stroke-width="0.0" />
<path d="M1073.3 521.4 L1078.9 519.1 L1092.3 525.9 L1093.4 532.6 L1087.8 534.8" fill="none" stroke="#111" stroke-width="1.1" />
<path d="M1087.8 533.7 L1092.3 532.6 L1103.5 538.2 L1105.2 546 L1100.2 550.5" fill="none" stroke="#111" stroke-width="1.1" />
<path d="M1106.9 568.4 L1115.9 562.8 L1123.7 570.7 L1122.6 577.4 L1113.6 580.8" fill="none" stroke="#111" stroke-width="1.1" />
<circle cx="1092.3" cy="588.6" r="2" fill="none" stroke="#111" stroke-width="1.1"/>
<circle cx="1109.7" cy="578.5" r="2" fill="none" stroke="#111" stroke-width="1.1"/>
<path d="M1052 539.3 C1054.6 539.7 1054.2 538.9 1059.8 540.4 C1065.4 541.9 1062.8 541.9 1068.8 543.8 C1074.8 545.7 1072.5 543 1077.8 546 C1083 549 1079.3 547.2 1084.5 552.8 C1089.7 558.4 1089 555.4 1093.4 562.8 C1097.9 570.3 1095.7 565.8 1097.9 575.2 C1100.2 584.5 1100.2 582.6 1100.2 590.9 C1100.2 599.1 1098.7 596.8 1097.9 599.8" fill="none" stroke="#111" stroke-width="0.9" />
<path d="M1052 542.1 C1054.6 542.5 1054.2 541.9 1059.8 543.2 C1065.4 544.5 1062.8 544.5 1068.8 546 C1074.8 547.5 1072.5 545.1 1077.8 547.7 C1083 550.3 1079.3 548.8 1084.5 553.9 C1089.7 558.9 1089 555 1093.4 562.8 C1097.9 570.7 1095.7 567.3 1097.9 577.4 C1100.2 587.5 1100.2 585.6 1100.2 593.1 C1100.2 600.6 1098.7 597.6 1097.9 599.8" fill="none" stroke="#111" stroke-width="0.9" />
<path d="M1052 544.9 C1054.6 545.3 1054.2 544.9 1059.8 546 C1065.4 547.2 1062.8 547.2 1068.8 548.3 C1074.8 549.4 1072.5 547.2 1077.8 549.4 C1083 551.6 1079.3 550.5 1084.5 555 C1089.7 559.5 1089 554.6 1093.4 562.8 C1097.9 571.1 1095.7 568.8 1097.9 579.7 C1100.2 590.5 1100.2 588.6 1100.2 595.3 C1100.2 602.1 1098.7 598.3 1097.9 599.8" fill="none" stroke="#111" stroke-width="0.9" />
<path d="M1052 547.7 C1054.6 548.1 1054.2 547.9 1059.8 548.8 C1065.4 549.8 1062.8 549.8 1068.8 550.5 C1074.8 551.3 1072.5 549.2 1077.8 551.1 C1083 552.9 1079.3 552.2 1084.5 556.1 C1089.7 560 1089 554.3 1093.4 562.8 C1097.9 571.4 1095.7 570.3 1097.9 581.9 C1100.2 593.5 1100.2 591.6 1100.2 597.6 C1100.2 603.6 1098.7 599.1 1097.9 599.8" fill="none" stroke="#111" stroke-width="0.9" />
<path d="M1063.2 552.8 L1068.8 559.5 L1082.2 568.4 L1086.7 564" fill="none" stroke="#111" stroke-width="1.0" />
<path d="M1071 557.2 L1077.8 555 L1082.2 562.8" fill="none" stroke="#111" stroke-width="1.0" />
<ellipse cx="1067.4" cy="566.8" rx="38" ry="50.8" transform="rotate(-25 1067.4 566.8)" fill="none" stroke="#111" stroke-width="1.4"/>
<ellipse cx="1067.8" cy="567.1" rx="36.6" ry="49.4" transform="rotate(-25 1067.8 567.1)" fill="none" stroke="#111" stroke-width="1.2"/>
<ellipse cx="1068.2" cy="567.4" rx="35.4" ry="48.2" transform="rotate(-25 1068.2 567.4)" fill="none" stroke="#111" stroke-width="0.9"/>
<line x1="1122.5" y1="642" x2="1131" y2="642" stroke="#333" stroke-width="0.9"/>
<path d="M1100.8 722.8 L1103.7 720.9 L1099.4 712.8 L1081.3 722.8 L1082.3 733.3" fill="#fdfdfd" stroke="#111" stroke-width="1.2" />
<path d="M1100.8 722.8 L1100.3 732.3 L1097.5 741.8 L1089.9 752.3 L1077.5 761.8 L1068 765.6 L1056.6 766.6 L1043.3 762.7 L1029.9 754.2 L1018.5 741.8 L1009 727.6 L1001.4 710.4 L998.1 700 L998.6 698.5 L1016.6 689 L1018.5 690 L1018.5 699 L1018.5 699 L1023.3 711.4 L1029.9 725.7 L1039.5 739 L1050.9 748.5 L1062.3 755.1 L1075.6 757 L1081.3 746.6 L1082.3 733.3" fill="#fdfdfd" stroke="#111" stroke-width="1.3" />
<path d="M1081.3 722.8 L1086.1 729.9 L1103.7 720.9" fill="none" stroke="#111" stroke-width="1.0" />
<ellipse cx="1094.1" cy="719.5" rx="1.6" ry="1.8" transform="rotate(0 1094.1 719.5)" fill="none" stroke="#111" stroke-width="1.0"/>
<path d="M1004.3 697.1 L1007.1 699.5 L1017.6 695.2" fill="none" stroke="#111" stroke-width="1.0" />
<path d="M1004.2 704.7 L1014.5 703.9" fill="none" stroke="#111" stroke-width="3.6" stroke-linecap="round"/>
<path d="M1004.2 704.7 L1014.5 703.9" fill="none" stroke="#fdfdfd" stroke-width="1.6" stroke-linecap="round"/>
<path d="M1005.7 709.1 L1016 708.1" fill="none" stroke="#111" stroke-width="3.6" stroke-linecap="round"/>
<path d="M1005.7 709.1 L1016 708.1" fill="none" stroke="#fdfdfd" stroke-width="1.6" stroke-linecap="round"/>
<path d="M1008.4 715.5 L1018 713.1" fill="none" stroke="#111" stroke-width="3.6" stroke-linecap="round"/>
<path d="M1008.4 715.5 L1018 713.1" fill="none" stroke="#fdfdfd" stroke-width="1.6" stroke-linecap="round"/>
<path d="M1011.5 722.4 L1020.5 718.6" fill="none" stroke="#111" stroke-width="3.6" stroke-linecap="round"/>
<path d="M1011.5 722.4 L1020.5 718.6" fill="none" stroke="#fdfdfd" stroke-width="1.6" stroke-linecap="round"/>
<path d="M1014.9 728.8 L1023.2 723.9" fill="none" stroke="#111" stroke-width="3.6" stroke-linecap="round"/>
<path d="M1014.9 728.8 L1023.2 723.9" fill="none" stroke="#fdfdfd" stroke-width="1.6" stroke-linecap="round"/>
<path d="M1018.7 734.7 L1026 729" fill="none" stroke="#111" stroke-width="3.6" stroke-linecap="round"/>
<path d="M1018.7 734.7 L1026 729" fill="none" stroke="#fdfdfd" stroke-width="1.6" stroke-linecap="round"/>
<path d="M1022.8 740.4 L1029.5 733.9" fill="none" stroke="#111" stroke-width="3.6" stroke-linecap="round"/>
<path d="M1022.8 740.4 L1029.5 733.9" fill="none" stroke="#fdfdfd" stroke-width="1.6" stroke-linecap="round"/>
<path d="M1027.4 745.6 L1033.1 738.5" fill="none" stroke="#111" stroke-width="3.6" stroke-linecap="round"/>
<path d="M1027.4 745.6 L1033.1 738.5" fill="none" stroke="#fdfdfd" stroke-width="1.6" stroke-linecap="round"/>
<path d="M1032 750.8 L1036.8 743.2" fill="none" stroke="#111" stroke-width="3.6" stroke-linecap="round"/>
<path d="M1032 750.8 L1036.8 743.2" fill="none" stroke="#fdfdfd" stroke-width="1.6" stroke-linecap="round"/>
<path d="M1037.4 754.5 L1041.1 746.5" fill="none" stroke="#111" stroke-width="3.6" stroke-linecap="round"/>
<path d="M1037.4 754.5 L1041.1 746.5" fill="none" stroke="#fdfdfd" stroke-width="1.6" stroke-linecap="round"/>
<path d="M1042.8 758.1 L1045.5 749.9" fill="none" stroke="#111" stroke-width="3.6" stroke-linecap="round"/>
<path d="M1042.8 758.1 L1045.5 749.9" fill="none" stroke="#fdfdfd" stroke-width="1.6" stroke-linecap="round"/>
<path d="M1048.2 760.5 L1049.9 752.7" fill="none" stroke="#111" stroke-width="3.6" stroke-linecap="round"/>
<path d="M1048.2 760.5 L1049.9 752.7" fill="none" stroke="#fdfdfd" stroke-width="1.6" stroke-linecap="round"/>
<path d="M1053.6 762.3 L1054.2 754.8" fill="none" stroke="#111" stroke-width="3.6" stroke-linecap="round"/>
<path d="M1053.6 762.3 L1054.2 754.8" fill="none" stroke="#fdfdfd" stroke-width="1.6" stroke-linecap="round"/>
<path d="M1058.7 763.4 L1058.4 756.6" fill="none" stroke="#111" stroke-width="3.6" stroke-linecap="round"/>
<path d="M1058.7 763.4 L1058.4 756.6" fill="none" stroke="#fdfdfd" stroke-width="1.6" stroke-linecap="round"/>
<path d="M1063.5 763.5 L1062.6 758.1" fill="none" stroke="#111" stroke-width="3.6" stroke-linecap="round"/>
<path d="M1063.5 763.5 L1062.6 758.1" fill="none" stroke="#fdfdfd" stroke-width="1.6" stroke-linecap="round"/>
<path d="M1068.2 763.2 L1067.1 758.4" fill="none" stroke="#111" stroke-width="3.6" stroke-linecap="round"/>
<path d="M1068.2 763.2 L1067.1 758.4" fill="none" stroke="#fdfdfd" stroke-width="1.6" stroke-linecap="round"/>
<path d="M1096.9 732.8 L1087.6 737" fill="none" stroke="#111" stroke-width="3.4" stroke-linecap="round"/>
<path d="M1096.9 732.8 L1087.6 737" fill="none" stroke="#fdfdfd" stroke-width="1.4" stroke-linecap="round"/>
<path d="M1094.7 740.9 L1086.2 743.2" fill="none" stroke="#111" stroke-width="3.4" stroke-linecap="round"/>
<path d="M1094.7 740.9 L1086.2 743.2" fill="none" stroke="#fdfdfd" stroke-width="1.4" stroke-linecap="round"/>
<path d="M1089.6 749.4 L1083.2 750" fill="none" stroke="#111" stroke-width="3.4" stroke-linecap="round"/>
<path d="M1089.6 749.4 L1083.2 750" fill="none" stroke="#fdfdfd" stroke-width="1.4" stroke-linecap="round"/>
<path d="M1082.9 755.9 L1079 755.5" fill="none" stroke="#111" stroke-width="3.4" stroke-linecap="round"/>
<path d="M1082.9 755.9 L1079 755.5" fill="none" stroke="#fdfdfd" stroke-width="1.4" stroke-linecap="round"/>
<line x1="1055" y1="767" x2="1055" y2="778" stroke="#333" stroke-width="0.9"/>
<g transform="translate(1112 710) rotate(0) scale(0.9)">
<path d="M0 -1.3 L7 -1.3 L7 1.3 L0 1.3" fill="#fdfdfd" stroke="#111" stroke-width="1"/>
<ellipse cx="0" cy="0" rx="1.6" ry="3.6" fill="#fdfdfd" stroke="#111" stroke-width="1.1"/>
<path d="M-1.5 -2.6 L-4.5 -2.2 L-5.2 0 L-4.5 2.2 L-1.5 2.6" fill="#fdfdfd" stroke="#111" stroke-width="1.1"/>
</g>
<line x1="1119" y1="709.5" x2="1128" y2="709.5" stroke="#333" stroke-width="0.9"/>
<ellipse cx="1365.5" cy="402.5" rx="51.5" ry="57.5" transform="rotate(-27 1365.5 402.5)" fill="#fdfdfd" stroke="#111" stroke-width="1.4"/>
<ellipse cx="1367.5" cy="401.5" rx="18.8" ry="49" transform="rotate(-27 1367.5 401.5)" fill="#fdfdfd" stroke="#111" stroke-width="1.2"/>
<path d="M1318 381 C1319.3 375.7 1317.7 372.8 1322 365 C1326.3 357.2 1323.3 360.3 1331 357.5 C1338.7 354.7 1338.7 356.3 1345 356.5 C1351.3 356.7 1348.3 357.5 1350 358" fill="none" stroke="#111" stroke-width="1.2" />
<path d="M1349.8 359.1 L1355.2 356.4 L1367.2 361.3 L1363.9 364" fill="none" stroke="#111" stroke-width="1.2" />
<path d="M1393 445 L1389 452.5" fill="none" stroke="#111" stroke-width="1.1" />
<clipPath id="cvg"><ellipse cx="1367.5" cy="401.5" rx="17.6" ry="47.8" transform="rotate(-27 1367.5 401.5)"/></clipPath>
<g clip-path="url(#cvg)"><line x1="1346" y1="360" x2="1358" y2="366" stroke="#111" stroke-width="1.9" stroke-linecap="round"/><line x1="1346.9" y1="365.6" x2="1358.9" y2="371.6" stroke="#111" stroke-width="1.9" stroke-linecap="round"/><line x1="1347.8" y1="371.2" x2="1359.8" y2="377.2" stroke="#111" stroke-width="1.9" stroke-linecap="round"/><line x1="1348.7" y1="376.8" x2="1360.7" y2="382.8" stroke="#111" stroke-width="1.9" stroke-linecap="round"/><line x1="1349.6" y1="382.4" x2="1361.6" y2="388.4" stroke="#111" stroke-width="1.9" stroke-linecap="round"/><line x1="1350.5" y1="388" x2="1362.5" y2="394" stroke="#111" stroke-width="1.9" stroke-linecap="round"/><line x1="1351.4" y1="393.6" x2="1363.4" y2="399.6" stroke="#111" stroke-width="1.9" stroke-linecap="round"/><line x1="1353" y1="399.2" x2="1365" y2="405.2" stroke="#111" stroke-width="1.9" stroke-linecap="round"/><line x1="1354.6" y1="404.8" x2="1366.6" y2="410.8" stroke="#111" stroke-width="1.9" stroke-linecap="round"/><line x1="1356.2" y1="410.4" x2="1368.2" y2="416.4" stroke="#111" stroke-width="1.9" stroke-linecap="round"/><line x1="1357.8" y1="416" x2="1369.8" y2="422" stroke="#111" stroke-width="1.9" stroke-linecap="round"/><line x1="1359.4" y1="421.6" x2="1371.4" y2="427.6" stroke="#111" stroke-width="1.9" stroke-linecap="round"/><line x1="1367" y1="380" x2="1384" y2="388.5" stroke="#111" stroke-width="1.9" stroke-linecap="round"/><line x1="1367" y1="385.8" x2="1384" y2="394.3" stroke="#111" stroke-width="1.9" stroke-linecap="round"/><line x1="1368" y1="403.2" x2="1385" y2="411.7" stroke="#111" stroke-width="1.9" stroke-linecap="round"/><line x1="1368" y1="409" x2="1385" y2="417.5" stroke="#111" stroke-width="1.9" stroke-linecap="round"/><line x1="1368" y1="414.8" x2="1385" y2="423.3" stroke="#111" stroke-width="1.9" stroke-linecap="round"/><line x1="1368" y1="420.6" x2="1385" y2="429.1" stroke="#111" stroke-width="1.9" stroke-linecap="round"/><line x1="1368" y1="426.4" x2="1385" y2="434.9" stroke="#111" stroke-width="1.9" stroke-linecap="round"/></g>
<circle cx="1367.2" cy="389.5" r="1.3" fill="none" stroke="#111" stroke-width="1.0"/>
<circle cx="1387" cy="401" r="1.3" fill="none" stroke="#111" stroke-width="1.0"/>
<line x1="1362.5" y1="338.5" x2="1362.5" y2="347" stroke="#333" stroke-width="0.9"/>
<g transform="translate(1409.5 366) rotate(-25) scale(1.0)">
<path d="M-7 -1.2 L0 -1.2 L0 1.2 L-7 1.2 Z" fill="#fdfdfd" stroke="#111" stroke-width="1.1"/>
<path d="M-7.5 -1.2 L-7.5 1.2" stroke="#111" stroke-width="1.6"/>
<ellipse cx="0" cy="0" rx="1.5" ry="3.4" fill="#fdfdfd" stroke="#111" stroke-width="1.1"/>
<path d="M1.2 -2.6 L4 -2.2 L4.8 0 L4 2.2 L1.2 2.6" fill="#fdfdfd" stroke="#111" stroke-width="1.1"/>
</g>
<g transform="translate(1428 377.5) rotate(-25) scale(1.0)">
<path d="M-7 -1.2 L0 -1.2 L0 1.2 L-7 1.2 Z" fill="#fdfdfd" stroke="#111" stroke-width="1.1"/>
<path d="M-7.5 -1.2 L-7.5 1.2" stroke="#111" stroke-width="1.6"/>
<ellipse cx="0" cy="0" rx="1.5" ry="3.4" fill="#fdfdfd" stroke="#111" stroke-width="1.1"/>
<path d="M1.2 -2.6 L4 -2.2 L4.8 0 L4 2.2 L1.2 2.6" fill="#fdfdfd" stroke="#111" stroke-width="1.1"/>
</g>
<line x1="1432.5" y1="380" x2="1439" y2="385.5" stroke="#333" stroke-width="0.9"/>
<g transform="translate(1278 403) rotate(-25) scale(1.0)">
<path d="M-7 -1.2 L0 -1.2 L0 1.2 L-7 1.2 Z" fill="#fdfdfd" stroke="#111" stroke-width="1.1"/>
<path d="M-7.5 -1.2 L-7.5 1.2" stroke="#111" stroke-width="1.6"/>
<ellipse cx="0" cy="0" rx="1.5" ry="3.4" fill="#fdfdfd" stroke="#111" stroke-width="1.1"/>
<path d="M1.2 -2.6 L4 -2.2 L4.8 0 L4 2.2 L1.2 2.6" fill="#fdfdfd" stroke="#111" stroke-width="1.1"/>
</g>
<line x1="1279.4" y1="399.5" x2="1286" y2="391.5" stroke="#333" stroke-width="0.9"/>
<g transform="translate(1267.5 424.2) rotate(-25) scale(1.0)">
<path d="M-7 -1.2 L0 -1.2 L0 1.2 L-7 1.2 Z" fill="#fdfdfd" stroke="#111" stroke-width="1.1"/>
<path d="M-7.5 -1.2 L-7.5 1.2" stroke="#111" stroke-width="1.6"/>
<ellipse cx="0" cy="0" rx="1.5" ry="3.4" fill="#fdfdfd" stroke="#111" stroke-width="1.1"/>
<path d="M1.2 -2.6 L4 -2.2 L4.8 0 L4 2.2 L1.2 2.6" fill="#fdfdfd" stroke="#111" stroke-width="1.1"/>
</g>
<g transform="translate(1274 455.5) rotate(-25) scale(1.0)">
<path d="M-7 -1.2 L0 -1.2 L0 1.2 L-7 1.2 Z" fill="#fdfdfd" stroke="#111" stroke-width="1.1"/>
<path d="M-7.5 -1.2 L-7.5 1.2" stroke="#111" stroke-width="1.6"/>
<ellipse cx="0" cy="0" rx="1.5" ry="3.4" fill="#fdfdfd" stroke="#111" stroke-width="1.1"/>
<path d="M1.2 -2.6 L4 -2.2 L4.8 0 L4 2.2 L1.2 2.6" fill="#fdfdfd" stroke="#111" stroke-width="1.1"/>
</g>
<line x1="1276.6" y1="452.5" x2="1281" y2="444.5" stroke="#333" stroke-width="0.9"/>
<g transform="translate(1322 433.8) rotate(-25) scale(1.0)">
<path d="M-7 -1.2 L0 -1.2 L0 1.2 L-7 1.2 Z" fill="#fdfdfd" stroke="#111" stroke-width="1.1"/>
<path d="M-7.5 -1.2 L-7.5 1.2" stroke="#111" stroke-width="1.6"/>
<ellipse cx="0" cy="0" rx="1.5" ry="3.4" fill="#fdfdfd" stroke="#111" stroke-width="1.1"/>
<path d="M1.2 -2.6 L4 -2.2 L4.8 0 L4 2.2 L1.2 2.6" fill="#fdfdfd" stroke="#111" stroke-width="1.1"/>
</g>
<g transform="translate(1332 456.5) rotate(-25) scale(1.0)">
<path d="M-7 -1.2 L0 -1.2 L0 1.2 L-7 1.2 Z" fill="#fdfdfd" stroke="#111" stroke-width="1.1"/>
<path d="M-7.5 -1.2 L-7.5 1.2" stroke="#111" stroke-width="1.6"/>
<ellipse cx="0" cy="0" rx="1.5" ry="3.4" fill="#fdfdfd" stroke="#111" stroke-width="1.1"/>
<path d="M1.2 -2.6 L4 -2.2 L4.8 0 L4 2.2 L1.2 2.6" fill="#fdfdfd" stroke="#111" stroke-width="1.1"/>
</g>
<line x1="1335.5" y1="458.4" x2="1342.7" y2="464.8" stroke="#333" stroke-width="0.9"/>
<path d="M1241.4 423.2 L1256.6 402.8 L1261.4 403.3 L1265.2 405.2 L1271.4 410.9 L1269 413.7 L1254.7 431.8 L1250.4 435.6 L1247.1 433.7 L1241.4 423.2 Z" fill="#fdfdfd" stroke="#111" stroke-width="1.3" />
<path d="M1242.4 423.2 L1255.7 405.2 L1261.4 406.1 L1248.1 426.1 L1242.4 423.2 Z" fill="#333" stroke="#111" stroke-width="1.0" />
<path d="M1261.4 406.1 L1263.3 408 L1249 428 L1248.1 426.1" fill="none" stroke="#111" stroke-width="1.0" />
<path d="M1263.3 408 L1269 411.8" fill="none" stroke="#111" stroke-width="1.0" />
<circle cx="1264.7" cy="408.5" r="1.4" fill="none" stroke="#111" stroke-width="1.0"/>
<circle cx="1249.5" cy="432.3" r="1.4" fill="none" stroke="#111" stroke-width="1.0"/>
<line x1="1244.3" y1="421.3" x2="1249" y2="424.2" stroke="#fdfdfd" stroke-width="0.8"/>
<line x1="1247.6" y1="417.5" x2="1252.3" y2="420.4" stroke="#fdfdfd" stroke-width="0.8"/>
<line x1="1250.9" y1="413.7" x2="1255.7" y2="416.6" stroke="#fdfdfd" stroke-width="0.8"/>
<line x1="1254.2" y1="409.9" x2="1259" y2="412.8" stroke="#fdfdfd" stroke-width="0.8"/>
<line x1="1257.6" y1="406.1" x2="1262.3" y2="409" stroke="#fdfdfd" stroke-width="0.8"/>
<line x1="1254" y1="395" x2="1256.6" y2="402.5" stroke="#333" stroke-width="0.9"/>
<path d="M1247.1 450.8 L1253.8 447 L1264.2 461.3 L1266.6 465.1 L1261.4 468.4 L1254.2 469.8 L1250.9 467 L1249 455.6 L1247.1 450.8 Z" fill="#fdfdfd" stroke="#111" stroke-width="1.2" />
<path d="M1253.8 450.8 L1258.5 451.8 L1263.3 464.1" fill="none" stroke="#111" stroke-width="1.0" />
<path d="M1251.9 452.7 L1256.6 453.7 L1258.5 461.3 L1254.7 463.2 Z" fill="#444" stroke="#111" stroke-width="1.0" />
<path d="M1240 464.1 L1247.1 458.4 L1253.3 466 L1243.3 470.3 L1240 464.1 Z" fill="#fdfdfd" stroke="#111" stroke-width="1.2" />
<path d="M1247.1 458.4 L1251.9 457.5 L1254.2 463.2" fill="#555" stroke="#111" stroke-width="1.0" />
<line x1="1241.4" y1="469.8" x2="1235.2" y2="477" stroke="#333" stroke-width="0.9"/>
<path d="M1276.6 472.7 L1289 465.1 L1291.8 463.2 L1289.9 450.8 L1298.5 445.1 L1302.3 440.4 L1307 440.8 L1308.9 444.6 L1315.6 445.1 L1319.4 448.9 L1321.8 460.3 L1320.3 474.6 L1315.6 484.1 L1306.1 491.7 L1291.8 496.5 L1281.3 494.6 L1271.8 488.9 L1273.7 485.1 L1276.6 483.2 L1276.6 472.7 Z" fill="#fdfdfd" stroke="#111" stroke-width="1.3" />
<path d="M1290.9 451.8 L1296.6 448.9 L1308 449.9 L1311.8 455.6 L1312.7 467 L1311.8 480.3 L1306.1 487 L1291.8 492.7 L1281.3 492.7 L1278.5 484.1 L1277.5 473.6" fill="none" stroke="#111" stroke-width="1.0" />
<path d="M1289 465.1 L1291.8 468.9 L1291.8 467" fill="none" stroke="#111" stroke-width="0.0" />
<ellipse cx="1293.7" cy="481.2" rx="5.5" ry="8" transform="rotate(-25 1293.7 481.2)" fill="none" stroke="#111" stroke-width="1.2"/>
<path d="M1283.2 480.3 L1287.1 476.5 L1296.6 469.8 L1302.3 467.9 L1308 470.8" fill="none" stroke="#111" stroke-width="1.0" />
<path d="M1283.2 480.3 L1289 488.9 L1292.8 489.8" fill="none" stroke="#111" stroke-width="1.0" />
<ellipse cx="1301.8" cy="443.2" rx="2" ry="2.4" transform="rotate(0 1301.8 443.2)" fill="none" stroke="#111" stroke-width="1.0"/>
<ellipse cx="1274.7" cy="488.9" rx="1.6" ry="1.6" transform="rotate(0 1274.7 488.9)" fill="none" stroke="#111" stroke-width="1.0"/>
<line x1="1315.6" y1="485.5" x2="1323.7" y2="492.5" stroke="#333" stroke-width="0.9"/>
<path d="M855 721 C854.2 723.9 854.2 722.4 852.5 729.6 C850.8 736.8 851.3 732.8 850 742.6 C848.7 752.4 847.8 749.7 848.6 758.9 C849.4 768.1 846.3 762.7 852.5 770.3 C858.7 777.9 855.2 774.1 867.2 781.7 C879.2 789.3 877 786.7 888.4 793.2 C899.8 799.7 895.4 797 901.4 801.3 C907.4 805.6 904.7 804.6 906.3 806.2" fill="none" stroke="#222" stroke-width="3.2" stroke-linecap="round"/>
<path d="M855 721 C854.2 723.9 854.2 722.4 852.5 729.6 C850.8 736.8 851.3 732.8 850 742.6 C848.7 752.4 847.8 749.7 848.6 758.9 C849.4 768.1 846.3 762.7 852.5 770.3 C858.7 777.9 855.2 774.1 867.2 781.7 C879.2 789.3 877 786.7 888.4 793.2 C899.8 799.7 895.4 797 901.4 801.3 C907.4 805.6 904.7 804.6 906.3 806.2" fill="none" stroke="#fdfdfd" stroke-width="1.5" stroke-linecap="round"/>
<path d="M906 811 C902.8 813.2 904 814.9 896.5 817.6 C889 820.3 889.5 819.1 883.5 819.2 C877.5 819.3 880.2 818.4 878.5 818" fill="none" stroke="#222" stroke-width="3.2" stroke-linecap="round"/>
<path d="M906 811 C902.8 813.2 904 814.9 896.5 817.6 C889 820.3 889.5 819.1 883.5 819.2 C877.5 819.3 880.2 818.4 878.5 818" fill="none" stroke="#fdfdfd" stroke-width="1.5" stroke-linecap="round"/>
<path d="M879 805 C874 805.4 874.4 802.5 863.9 806.2 C853.4 809.9 857.9 807.3 847.6 816 C837.3 824.7 840.1 821.4 833 832.3 C825.9 843.2 827.5 841 826.4 848.6 C825.3 856.2 826.4 854.6 829.7 855.1 C833 855.6 834 851.8 836.2 850.2" fill="none" stroke="#222" stroke-width="3.2" stroke-linecap="round"/>
<path d="M879 805 C874 805.4 874.4 802.5 863.9 806.2 C853.4 809.9 857.9 807.3 847.6 816 C837.3 824.7 840.1 821.4 833 832.3 C825.9 843.2 827.5 841 826.4 848.6 C825.3 856.2 826.4 854.6 829.7 855.1 C833 855.6 834 851.8 836.2 850.2" fill="none" stroke="#fdfdfd" stroke-width="1.5" stroke-linecap="round"/>
<path d="M838 852 C841.2 855.2 841.7 855.1 847.6 861.6 C853.5 868.1 852.3 867.3 855.8 871.4 C859.3 875.5 857.3 873.1 858 874" fill="none" stroke="#222" stroke-width="3.2" stroke-linecap="round"/>
<path d="M838 852 C841.2 855.2 841.7 855.1 847.6 861.6 C853.5 868.1 852.3 867.3 855.8 871.4 C859.3 875.5 857.3 873.1 858 874" fill="none" stroke="#fdfdfd" stroke-width="1.5" stroke-linecap="round"/>
<ellipse cx="907.9" cy="808.7" rx="4.3" ry="5.2" transform="rotate(-30 907.9 808.7)" fill="#fdfdfd" stroke="#111" stroke-width="1.2"/>
<ellipse cx="907.2" cy="808.9" rx="2" ry="2.8" transform="rotate(-30 907.2 808.9)" fill="none" stroke="#111" stroke-width="1.0"/>
<ellipse cx="837" cy="849.5" rx="4.3" ry="5" transform="rotate(-30 837 849.5)" fill="#fdfdfd" stroke="#111" stroke-width="1.2"/>
<ellipse cx="836.4" cy="849.7" rx="2" ry="2.6" transform="rotate(-30 836.4 849.7)" fill="none" stroke="#111" stroke-width="1.0"/>
<g transform="translate(855.4 717.5) rotate(-80) scale(1.0)"><ellipse cx="0" cy="0" rx="3.4" ry="2.6" fill="#fdfdfd" stroke="#111" stroke-width="1.2"/><ellipse cx="0.3" cy="0" rx="1.5" ry="1.1" fill="none" stroke="#111" stroke-width="1"/></g>
<g transform="translate(876.5 817.6) rotate(10) scale(1.0)"><ellipse cx="0" cy="0" rx="3.4" ry="2.6" fill="#fdfdfd" stroke="#111" stroke-width="1.2"/><ellipse cx="0.3" cy="0" rx="1.5" ry="1.1" fill="none" stroke="#111" stroke-width="1"/></g>
<g transform="translate(881 804.5) rotate(10) scale(1.0)"><ellipse cx="0" cy="0" rx="3.4" ry="2.6" fill="#fdfdfd" stroke="#111" stroke-width="1.2"/><ellipse cx="0.3" cy="0" rx="1.5" ry="1.1" fill="none" stroke="#111" stroke-width="1"/></g>
<g transform="translate(858.8 875.6) rotate(60) scale(1.0)"><ellipse cx="0" cy="0" rx="3.4" ry="2.6" fill="#fdfdfd" stroke="#111" stroke-width="1.2"/><ellipse cx="0.3" cy="0" rx="1.5" ry="1.1" fill="none" stroke="#111" stroke-width="1"/></g>
<line x1="912.8" y1="804.6" x2="919.4" y2="802.1" stroke="#333" stroke-width="0.9"/>
<line x1="842.7" y1="845.3" x2="852.5" y2="842.1" stroke="#333" stroke-width="0.9"/>
<ellipse cx="928.3" cy="851.3" rx="4.9" ry="2.1" transform="rotate(0 928.3 851.3)" fill="#fdfdfd" stroke="#111" stroke-width="1.1"/>
<path d="M924.8 847.6 L924.8 851 Q928.3 852.5 931.8 851 L931.8 847.6" fill="#fdfdfd" stroke="#111" stroke-width="1.2" />
<line x1="927.1" y1="849" x2="927.1" y2="851.9" stroke="#222" stroke-width="0.9"/>
<line x1="929.5" y1="849" x2="929.5" y2="851.9" stroke="#222" stroke-width="0.9"/>
<ellipse cx="928.3" cy="847.6" rx="3.5" ry="2" transform="rotate(0 928.3 847.6)" fill="#fdfdfd" stroke="#111" stroke-width="1.2"/>
<ellipse cx="928.3" cy="847.6" rx="1.8" ry="0.9" transform="rotate(0 928.3 847.6)" fill="none" stroke="#111" stroke-width="1.0"/>
<line x1="928.3" y1="836.5" x2="928.3" y2="845" stroke="#333" stroke-width="0.9"/>
<ellipse cx="858.2" cy="888.2" rx="4.9" ry="1.9" transform="rotate(0 858.2 888.2)" fill="#fdfdfd" stroke="#111" stroke-width="1.1"/>
<path d="M854.7 884.9 L854.7 888 Q858.2 889.3 861.7 888 L861.7 884.9" fill="#fdfdfd" stroke="#111" stroke-width="1.2" />
<line x1="857" y1="886.1" x2="857" y2="888.7" stroke="#222" stroke-width="0.9"/>
<line x1="859.4" y1="886.1" x2="859.4" y2="888.7" stroke="#222" stroke-width="0.9"/>
<ellipse cx="858.2" cy="884.9" rx="3.5" ry="1.8" transform="rotate(0 858.2 884.9)" fill="#fdfdfd" stroke="#111" stroke-width="1.2"/>
<ellipse cx="858.2" cy="884.9" rx="1.8" ry="0.8" transform="rotate(0 858.2 884.9)" fill="none" stroke="#111" stroke-width="1.0"/>
<path d="M849.2 899.1 L925.9 856.7 L928 855.5 L933.2 863.3 L857.4 905.7 L849.2 899.1 Z" fill="#fdfdfd" stroke="#111" stroke-width="1.3" />
<path d="M851 898 L927 856" fill="none" stroke="#111" stroke-width="1.0" />
<path d="M853 900.5 L930 858" fill="none" stroke="#111" stroke-width="0.9" />
<circle cx="857.4" cy="902.5" r="1.2" fill="#111" stroke="#111" stroke-width="0.5"/>
<circle cx="925.9" cy="862.5" r="1.2" fill="#111" stroke="#111" stroke-width="0.5"/>
<line x1="890.8" y1="888.5" x2="890.8" y2="897.5" stroke="#333" stroke-width="0.9"/>
<path d="M971.5 806.2 L986.2 811.1 L991.1 816 L987.8 824.1 L978.1 822.5 L969.9 817.6" fill="#fdfdfd" stroke="#111" stroke-width="1.3" />
<path d="M975.6 807.8 C975.4 808.9 974.6 812 974.3 814.4 C974 816.7 973.8 820.5 973.6 821.7" fill="none" stroke="#111" stroke-width="1.4" />
<path d="M978.9 807.8 C978.7 808.9 977.9 812 977.6 814.4 C977.2 816.7 977 820.5 976.9 821.7" fill="none" stroke="#111" stroke-width="1.4" />
<path d="M982.1 807.8 C981.9 808.9 981.2 812 980.8 814.4 C980.5 816.7 980.3 820.5 980.2 821.7" fill="none" stroke="#111" stroke-width="1.4" />
<path d="M958.3 811.2 L972.6 798.5 L976.3 801.4 L976.3 805.1 L966.9 818.9 L962 819.7 L959.2 816.5 L958.3 811.2 Z" fill="#fdfdfd" stroke="#111" stroke-width="1.7" />
<path d="M960 812 L972.5 801 L974.5 803.5" fill="none" stroke="#111" stroke-width="1.0" />
<path d="M961 815 L966 816.5" fill="none" stroke="#111" stroke-width="1.0" />
<ellipse cx="991.4" cy="820.5" rx="3.6" ry="5" transform="rotate(-25 991.4 820.5)" fill="#fdfdfd" stroke="#111" stroke-width="1.4"/>
<path d="M984.6 813 L990.8 815.7" fill="none" stroke="#111" stroke-width="1.1" />
<path d="M984.6 824.1 L990.8 825.1" fill="none" stroke="#111" stroke-width="1.1" />
<line x1="973.2" y1="790" x2="973.2" y2="798.9" stroke="#333" stroke-width="0.9"/>
<path d="M1015.3 835.6 L1035.1 838.5 L1027 864.1 L1013.6 846.1 Q1010.5 840.5 1015.3 835.6 Z" fill="#fdfdfd" stroke="#111" stroke-width="1.2" />
<ellipse cx="1036.7" cy="851.9" rx="11.5" ry="13.2" transform="rotate(-15 1036.7 851.9)" fill="#fdfdfd" stroke="#111" stroke-width="1.3"/>
<ellipse cx="1037.6" cy="851.6" rx="7" ry="9.2" transform="rotate(-15 1037.6 851.6)" fill="none" stroke="#111" stroke-width="1.2"/>
<ellipse cx="1037.2" cy="851.8" rx="10.2" ry="12" transform="rotate(-15 1037.2 851.8)" fill="none" stroke="#111" stroke-width="0.8"/>
<line x1="1021.8" y1="825.5" x2="1021.8" y2="834.5" stroke="#333" stroke-width="0.9"/>
<path d="M881.9 957.8 L1120.3 825.8 L1156.7 839.6 L1157.7 905.6 L1155.7 906.6 L915.4 1041.6 L912.4 1041.6 L882.9 1027.8 L881.9 957.8 Z" fill="#fdfdfd" stroke="#111" stroke-width="1.04" />
<path d="M881.9 957.8 L912.4 972.6 L912.4 1041.6" fill="none" stroke="#111" stroke-width="0.88" />
<path d="M915.4 974.6 L915.4 1041.6" fill="none" stroke="#111" stroke-width="0.8" />
<path d="M914.4 970.6 L1156.7 838.6" fill="none" stroke="#111" stroke-width="1.04" />
<path d="M915.4 975 L1155.7 842.2" fill="none" stroke="#111" stroke-width="0.8" />
<path d="M1156.7 838.6 L1156.7 905.6" fill="none" stroke="#111" stroke-width="0.8" />
<path d="M1119.3 860.3 L1119.3 882 L1156.7 905.6" fill="none" stroke="#111" stroke-width="0.8" />
<path d="M1119.3 882 L1009 943.1" fill="none" stroke="#111" stroke-width="0.8" />
<path d="M1117.3 891.8 L1038.5 935.2" fill="none" stroke="#111" stroke-width="0.8" />
<path d="M1038.5 935.2 L1038.5 972.6" fill="none" stroke="#111" stroke-width="0.8" />
<path d="M915.4 1020.9 L1032.6 964.7" fill="none" stroke="#111" stroke-width="0.0" />
<path d="M930.2 981.5 L949.9 971.6 L949.9 962.8 L944 959.8" fill="none" stroke="#111" stroke-width="0.88" />
<path d="M930.2 981.5 L934.1 1012 L947.9 1020.9 L1032.6 973.6 L1032.6 964.7 L1007 943.1 L993.2 934.2" fill="none" stroke="#111" stroke-width="0.88" />
<path d="M934.1 1004.1 L1007 963.7 L1007 943.1" fill="none" stroke="#111" stroke-width="0.8" />
<path d="M947.9 1012 L947.9 1020.9" fill="none" stroke="#111" stroke-width="0.8" />
<path d="M993.2 934.2 L1038.5 960.8" fill="none" stroke="#111" stroke-width="0.8" />
<path d="M915.4 1021.9 L947.9 1020.9" fill="none" stroke="#111" stroke-width="0.0" />
<path d="M915.4 1020.9 L934.1 1012" fill="none" stroke="#111" stroke-width="0.8" />
<path d="M1055.3 895.8 C1054.9 896.8 1053 899.7 1053.3 901.7 C1053.6 903.7 1055.4 906.3 1057.2 907.6 C1059 908.8 1062 909.7 1064.1 909.2 C1066.3 908.7 1068.8 906.9 1070 904.6 C1071.3 902.4 1071.3 897.2 1071.6 895.8" fill="none" stroke="#111" stroke-width="0.88" />
<circle cx="922.3" cy="994.3" r="1" fill="#111" stroke="#111" stroke-width="0.4"/>
<path d="M914.4 976.5 L918.3 974.6 L920.3 980.5 L916.4 982.5 L914.4 976.5" fill="none" stroke="#111" stroke-width="0.8" />
<path d="M936.1 959.8 L936.1 956.8 L938.4 955.9 L938.4 958.8" fill="none" stroke="#111" stroke-width="0.72" />
<path d="M944 955.9 L944 952.9 L946.3 951.9 L946.3 954.9" fill="none" stroke="#111" stroke-width="0.72" />
<path d="M1030.6 905.6 L1030.6 902.7 L1033 901.7 L1033 904.6" fill="none" stroke="#111" stroke-width="0.72" />
<path d="M1038.5 902.7 L1038.5 899.7 L1040.9 898.7 L1040.9 901.7" fill="none" stroke="#111" stroke-width="0.72" />
<path d="M1117.3 858.3 L1117.3 855.4 L1119.7 854.4 L1119.7 857.4" fill="none" stroke="#111" stroke-width="0.72" />
<path d="M1124.2 855.4 L1124.2 852.4 L1126.6 851.4 L1126.6 854.4" fill="none" stroke="#111" stroke-width="0.72" />
<path d="M1119.3 928.3 L1119.3 923.4 L1125.2 922.4 L1125.2 925.3" fill="none" stroke="#111" stroke-width="0.72" />
<path d="M938 1027.8 L938 1023.8 L944 1022.8 L944 1025.8" fill="none" stroke="#111" stroke-width="0.72" />
<line x1="1124.5" y1="816.5" x2="1124.5" y2="826" stroke="#333" stroke-width="0.72"/>
<path d="M993.2 1007.1 L1003.1 1005.1 L1010.9 1012 L1012.9 1021.9 L1009 1027.8 L995.2 1028.8 L987.3 1023.8 L985.3 1015.9 L988.3 1010 L993.2 1007.1 Z" fill="#fdfdfd" stroke="#111" stroke-width="1.2" />
<ellipse cx="1006" cy="1020.9" rx="5.2" ry="6.8" transform="rotate(-20 1006 1020.9)" fill="#fdfdfd" stroke="#111" stroke-width="1.1"/>
<ellipse cx="1007.4" cy="1021.9" rx="3.2" ry="4.2" transform="rotate(-20 1007.4 1021.9)" fill="#fdfdfd" stroke="#111" stroke-width="1.2"/>
<ellipse cx="1008" cy="1022.2" rx="1.6" ry="2.2" transform="rotate(-20 1008 1022.2)" fill="none" stroke="#111" stroke-width="1.0"/>
<path d="M993.2 1007.1 L995.2 1012 L1001.1 1015.9" fill="none" stroke="#111" stroke-width="0.0" />
<line x1="996.2" y1="1029.7" x2="996.2" y2="1039.6" stroke="#333" stroke-width="0.9"/>
<path d="M1031.2 1023 L1272.7 886.5 L1280.9 885.5 L1293.1 879.4 L1300.2 881.4 L1303.3 888.5 L1303.3 986.4 L1302.2 987.4 L1152.5 1075 L1142.3 1074 L1130 1071.9 L1036.3 1122.9 L1037.3 1046.5 L1038.3 1044.4 L1041.4 1037.3 L1039.4 1029.1 L1032.2 1025.1 L1031.2 1023 Z" fill="#fdfdfd" stroke="#111" stroke-width="1.12" />
<path d="M1039.4 1029.1 L1300.2 884.5" fill="none" stroke="#111" stroke-width="0.0" />
<path d="M1038.3 1044.4 L1302.2 900.8" fill="none" stroke="#111" stroke-width="1.28" />
<path d="M1039.4 1046.5 L1302.2 902.8" fill="none" stroke="#111" stroke-width="0.72" />
<path d="M1037.3 1046.5 L1037.3 1122.9" fill="none" stroke="#111" stroke-width="0.88" />
<path d="M1036.3 1051.6 L1028.2 1053.6 L1028.2 1075 L1036.3 1073" fill="#fdfdfd" stroke="#111" stroke-width="0.96" />
<path d="M1031.2 1053 L1031.2 1074.2" fill="none" stroke="#111" stroke-width="0.64" />
<path d="M1036.3 1100.5 L1028.2 1102.5 L1028.2 1124.9 L1036.3 1122.9" fill="#fdfdfd" stroke="#111" stroke-width="0.96" />
<path d="M1031.2 1101.9 L1031.2 1124.1" fill="none" stroke="#111" stroke-width="0.64" />
<path d="M1303.3 900.8 L1311.4 895.7 L1312.4 898.7 L1311.4 961.9 L1313.5 966 L1313.5 982.3 L1309.4 987.4 L1303.3 987.4" fill="#fdfdfd" stroke="#111" stroke-width="0.96" />
<path d="M1307.3 899.7 L1307.3 984.3" fill="none" stroke="#111" stroke-width="0.64" />
<path d="M1040.6 1027.6 L1290 887.5" fill="none" stroke="#111" stroke-width="0.8" />
<path d="M1042.2 1032.5 L1292 894.6" fill="none" stroke="#111" stroke-width="0.8" />
<path d="M1055.8 1031.5 L1067.8 1024.9" fill="none" stroke="#111" stroke-width="4.6" stroke-linecap="round"/>
<path d="M1055.8 1031.5 L1067.8 1024.9" fill="none" stroke="#fdfdfd" stroke-width="2.4" stroke-linecap="round"/>
<path d="M1074.2 1021.4 L1086.2 1014.9" fill="none" stroke="#111" stroke-width="4.6" stroke-linecap="round"/>
<path d="M1074.2 1021.4 L1086.2 1014.9" fill="none" stroke="#fdfdfd" stroke-width="2.4" stroke-linecap="round"/>
<path d="M1092.6 1011.4 L1104.6 1004.9" fill="none" stroke="#111" stroke-width="4.6" stroke-linecap="round"/>
<path d="M1092.6 1011.4 L1104.6 1004.9" fill="none" stroke="#fdfdfd" stroke-width="2.4" stroke-linecap="round"/>
<path d="M1111 1001.4 L1123 994.8" fill="none" stroke="#111" stroke-width="4.6" stroke-linecap="round"/>
<path d="M1111 1001.4 L1123 994.8" fill="none" stroke="#fdfdfd" stroke-width="2.4" stroke-linecap="round"/>
<path d="M1129.4 991.4 L1141.4 984.8" fill="none" stroke="#111" stroke-width="4.6" stroke-linecap="round"/>
<path d="M1129.4 991.4 L1141.4 984.8" fill="none" stroke="#fdfdfd" stroke-width="2.4" stroke-linecap="round"/>
<path d="M1147.8 981.3 L1159.8 974.8" fill="none" stroke="#111" stroke-width="4.6" stroke-linecap="round"/>
<path d="M1147.8 981.3 L1159.8 974.8" fill="none" stroke="#fdfdfd" stroke-width="2.4" stroke-linecap="round"/>
<path d="M1166.2 971.3 L1178.2 964.8" fill="none" stroke="#111" stroke-width="4.6" stroke-linecap="round"/>
<path d="M1166.2 971.3 L1178.2 964.8" fill="none" stroke="#fdfdfd" stroke-width="2.4" stroke-linecap="round"/>
<path d="M1184.6 961.3 L1196.6 954.7" fill="none" stroke="#111" stroke-width="4.6" stroke-linecap="round"/>
<path d="M1184.6 961.3 L1196.6 954.7" fill="none" stroke="#fdfdfd" stroke-width="2.4" stroke-linecap="round"/>
<path d="M1203 951.3 L1215 944.7" fill="none" stroke="#111" stroke-width="4.6" stroke-linecap="round"/>
<path d="M1203 951.3 L1215 944.7" fill="none" stroke="#fdfdfd" stroke-width="2.4" stroke-linecap="round"/>
<path d="M1221.4 941.2 L1233.4 934.7" fill="none" stroke="#111" stroke-width="4.6" stroke-linecap="round"/>
<path d="M1221.4 941.2 L1233.4 934.7" fill="none" stroke="#fdfdfd" stroke-width="2.4" stroke-linecap="round"/>
<path d="M1239.8 931.2 L1251.8 924.6" fill="none" stroke="#111" stroke-width="4.6" stroke-linecap="round"/>
<path d="M1239.8 931.2 L1251.8 924.6" fill="none" stroke="#fdfdfd" stroke-width="2.4" stroke-linecap="round"/>
<path d="M1258.2 921.2 L1270.2 914.6" fill="none" stroke="#111" stroke-width="4.6" stroke-linecap="round"/>
<path d="M1258.2 921.2 L1270.2 914.6" fill="none" stroke="#fdfdfd" stroke-width="2.4" stroke-linecap="round"/>
<path d="M1276.6 911.1 L1288.6 904.6" fill="none" stroke="#111" stroke-width="4.6" stroke-linecap="round"/>
<path d="M1276.6 911.1 L1288.6 904.6" fill="none" stroke="#fdfdfd" stroke-width="2.4" stroke-linecap="round"/>
<path d="M1057.7 1051.6 L1086.2 1036.3 L1086.2 1065.8 L1057.7 1081.1 L1057.7 1051.6 Z" fill="none" stroke="#111" stroke-width="0.88" />
<path d="M1060.8 1050.5 L1086.2 1037.3" fill="none" stroke="#111" stroke-width="0.0" />
<ellipse cx="1072" cy="1058.7" rx="3.6" ry="4.8" transform="rotate(-15 1072 1058.7)" fill="none" stroke="#111" stroke-width="0.88"/>
<path d="M1051.6 1054.6 L1051.6 1096.4" fill="none" stroke="#111" stroke-width="0.8" />
<path d="M1100.5 1027.1 L1100.5 1067.9" fill="none" stroke="#111" stroke-width="0.8" />
<path d="M1057.7 1098.4 L1093.4 1079.1" fill="none" stroke="#111" stroke-width="0.8" />
<path d="M1058.7 1044.4 L1093.4 1026.1" fill="none" stroke="#111" stroke-width="0.8" />
<path d="M1109.7 1017.9 L1109.7 1063.8 L1130 1052.6" fill="none" stroke="#111" stroke-width="0.8" />
<path d="M1112.7 1019 L1112.7 1049.5 L1137.2 1037.3" fill="none" stroke="#111" stroke-width="0.8" />
<path d="M1112.7 1019 L1142.3 1002.7" fill="none" stroke="#111" stroke-width="0.8" />
<ellipse cx="1128" cy="1024.1" rx="8.8" ry="9.7" transform="rotate(-15 1128 1024.1)" fill="none" stroke="#111" stroke-width="0.96"/>
<line x1="1134.5" y1="1031.2" x2="1136" y2="1032.7" stroke="#222" stroke-width="0.96"/>
<line x1="1121.5" y1="1031.2" x2="1120.1" y2="1032.7" stroke="#222" stroke-width="0.96"/>
<line x1="1121.5" y1="1016.9" x2="1120.1" y2="1015.5" stroke="#222" stroke-width="0.96"/>
<line x1="1134.5" y1="1016.9" x2="1136" y2="1015.5" stroke="#222" stroke-width="0.96"/>
<ellipse cx="1207.5" cy="986.4" rx="9.3" ry="10.2" transform="rotate(-15 1207.5 986.4)" fill="none" stroke="#111" stroke-width="0.96"/>
<line x1="1214.4" y1="993.9" x2="1215.8" y2="995.4" stroke="#222" stroke-width="0.96"/>
<line x1="1200.6" y1="993.9" x2="1199.2" y2="995.4" stroke="#222" stroke-width="0.96"/>
<line x1="1200.6" y1="978.8" x2="1199.2" y2="977.3" stroke="#222" stroke-width="0.96"/>
<line x1="1214.4" y1="978.8" x2="1215.8" y2="977.3" stroke="#222" stroke-width="0.96"/>
<ellipse cx="1230.9" cy="972.1" rx="9.3" ry="10.2" transform="rotate(-15 1230.9 972.1)" fill="none" stroke="#111" stroke-width="0.96"/>
<line x1="1237.8" y1="979.7" x2="1239.2" y2="981.1" stroke="#222" stroke-width="0.96"/>
<line x1="1224" y1="979.7" x2="1222.6" y2="981.1" stroke="#222" stroke-width="0.96"/>
<line x1="1224" y1="964.5" x2="1222.6" y2="963.1" stroke="#222" stroke-width="0.96"/>
<line x1="1237.8" y1="964.5" x2="1239.2" y2="963.1" stroke="#222" stroke-width="0.96"/>
<ellipse cx="1260.5" cy="954.8" rx="13" ry="16" transform="rotate(-20 1260.5 954.8)" fill="none" stroke="#111" stroke-width="1.04"/>
<circle cx="1247.2" cy="947.6" r="1.2" fill="#222" stroke="#111" stroke-width="0.4"/>
<circle cx="1272.7" cy="932.3" r="1.2" fill="#222" stroke="#111" stroke-width="0.4"/>
<circle cx="1247.2" cy="975.1" r="1.2" fill="#222" stroke="#111" stroke-width="0.4"/>
<circle cx="1272.7" cy="960.9" r="1.2" fill="#222" stroke="#111" stroke-width="0.4"/>
<path d="M1162.7 1035.3 L1277.8 975.1 L1277.8 926.2 L1287 921.1" fill="none" stroke="#111" stroke-width="0.8" />
<path d="M1162.7 1002.7 L1244.2 959.9" fill="none" stroke="#111" stroke-width="0.0" />
<path d="M1164.7 1037.3 L1278.8 978.2" fill="none" stroke="#111" stroke-width="0.0" />
<ellipse cx="1180" cy="1010.8" rx="11.5" ry="3.6" transform="rotate(-28 1180 1010.8)" fill="none" stroke="#111" stroke-width="0.96"/>
<circle cx="1171.8" cy="1006.7" r="1.1" fill="#222" stroke="#111" stroke-width="0.4"/>
<circle cx="1180" cy="1002.7" r="1.1" fill="#222" stroke="#111" stroke-width="0.4"/>
<circle cx="1188.1" cy="998.6" r="1.1" fill="#222" stroke="#111" stroke-width="0.4"/>
<circle cx="1171.8" cy="1027.1" r="1.1" fill="#222" stroke="#111" stroke-width="0.4"/>
<circle cx="1180" cy="1023" r="1.1" fill="#222" stroke="#111" stroke-width="0.4"/>
<circle cx="1188.1" cy="1017.9" r="1.1" fill="#222" stroke="#111" stroke-width="0.4"/>
<circle cx="1149.4" cy="1026.1" r="1.1" fill="#222" stroke="#111" stroke-width="0.4"/>
<path d="M1150.4 1035.3 L1160.6 1037.3" fill="none" stroke="#111" stroke-width="0.88" />
<path d="M1151.4 1047.5 L1161.6 1050.5" fill="none" stroke="#111" stroke-width="0.88" />
<path d="M1142.3 1063.8 L1155.5 1066.8" fill="none" stroke="#111" stroke-width="0.88" />
<circle cx="1042.4" cy="1055.6" r="1.8" fill="none" stroke="#111" stroke-width="0.8"/>
<circle cx="1042.4" cy="1096.4" r="1.8" fill="none" stroke="#111" stroke-width="0.8"/>
<circle cx="1297.2" cy="914" r="1.8" fill="none" stroke="#111" stroke-width="0.8"/>
<circle cx="1297.2" cy="970" r="1.8" fill="none" stroke="#111" stroke-width="0.8"/>
<path d="M1162.7 1065.8 L1303.3 990.4" fill="none" stroke="#111" stroke-width="0.0" />
<line x1="1293" y1="857.5" x2="1293" y2="872" stroke="#333" stroke-width="0.72"/>
<path d="M1323.5 998.3 L1352.8 984.4 L1357.7 986 L1359.4 990.1 L1357.7 1024.4 L1352.8 1030.9 L1326.7 1032.5 L1323.5 1029.2 L1323.5 998.3 Z" fill="#fdfdfd" stroke="#111" stroke-width="1.3" />
<path d="M1326.7 1001.5 L1352.8 988.5 L1355.3 991.7 L1354.5 1024.4 L1326.7 1029.2 L1326.7 1001.5" fill="none" stroke="#111" stroke-width="1.0" />
<path d="M1323.5 998.3 C1322.9 999.4 1320.9 1002.1 1320.2 1004.8 C1319.5 1007.5 1319.1 1011.3 1319.4 1014.6 C1319.7 1017.8 1321.2 1021.9 1321.9 1024.4 C1322.5 1026.8 1323.2 1028.4 1323.5 1029.2" fill="none" stroke="#111" stroke-width="1.2" />
<path d="M1334.9 993.4 L1343.1 990.1 L1349.6 991.7 L1352.8 996.6 L1356.1 1001.5" fill="none" stroke="#111" stroke-width="1.0" />
<ellipse cx="1355.3" cy="1016.2" rx="14.5" ry="18.5" transform="rotate(-20 1355.3 1016.2)" fill="#fdfdfd" stroke="#111" stroke-width="1.3"/>
<ellipse cx="1356.1" cy="1016.2" rx="12.2" ry="15.8" transform="rotate(-20 1356.1 1016.2)" fill="none" stroke="#111" stroke-width="1.1"/>
<path d="M1350.9 1014.6 L1359.4 1011.3 L1360.7 1017.8 L1352.2 1021.4 L1350.9 1014.6 Z" fill="#fdfdfd" stroke="#111" stroke-width="1.3" />
<path d="M1352 1015.4 L1359.4 1012.5" fill="none" stroke="#333" stroke-width="2.0" />
<path d="M1352.8 1019.5 L1359.7 1016.5" fill="none" stroke="#111" stroke-width="1.0" />
<circle cx="1330.8" cy="1000.7" r="1.8" fill="#333" stroke="#111" stroke-width="1.1"/>
<circle cx="1330.8" cy="1027.6" r="1.8" fill="#333" stroke="#111" stroke-width="1.1"/>
<path d="M1336.5 995 L1344.7 991.7 L1347.9 996.6 L1343.1 1001.5 L1336.5 995" fill="none" stroke="#111" stroke-width="1.0" />
<line x1="1351" y1="969.5" x2="1351" y2="983" stroke="#333" stroke-width="0.9"/>
<g transform="translate(1385 963) rotate(200) scale(1.0)">
<path d="M-7 -1.2 L0 -1.2 L0 1.2 L-7 1.2 Z" fill="#fdfdfd" stroke="#111" stroke-width="1.1"/>
<path d="M-7.5 -1.2 L-7.5 1.2" stroke="#111" stroke-width="1.6"/>
<ellipse cx="0" cy="0" rx="1.5" ry="3.4" fill="#fdfdfd" stroke="#111" stroke-width="1.1"/>
<path d="M1.2 -2.6 L4 -2.2 L4.8 0 L4 2.2 L1.2 2.6" fill="#fdfdfd" stroke="#111" stroke-width="1.1"/>
</g>
<g transform="translate(1385 1019.5) rotate(200) scale(1.0)">
<path d="M-7 -1.2 L0 -1.2 L0 1.2 L-7 1.2 Z" fill="#fdfdfd" stroke="#111" stroke-width="1.1"/>
<path d="M-7.5 -1.2 L-7.5 1.2" stroke="#111" stroke-width="1.6"/>
<ellipse cx="0" cy="0" rx="1.5" ry="3.4" fill="#fdfdfd" stroke="#111" stroke-width="1.1"/>
<path d="M1.2 -2.6 L4 -2.2 L4.8 0 L4 2.2 L1.2 2.6" fill="#fdfdfd" stroke="#111" stroke-width="1.1"/>
</g>
<line x1="1380.5" y1="949.5" x2="1380.5" y2="958" stroke="#333" stroke-width="0.9"/>
<path d="M1257.4 1040.7 L1268 1034.1 L1272.9 1032.5 L1272.9 1030.9 L1279.5 1028.4 L1284.4 1030.9 L1286 1037.4 L1290.9 1042.3 L1291.7 1048.8 L1286 1061.9 L1280.3 1065.9 L1276.2 1063.5 L1266.4 1065.9 L1264 1063.5 L1261.5 1053.7 L1258.3 1050.4 L1257.4 1040.7 Z" fill="#fdfdfd" stroke="#111" stroke-width="1.3" />
<path d="M1271.3 1032.5 L1281.1 1029.2 L1286 1057 L1284.4 1063.5 L1277.8 1065.9 L1271.3 1061.9 L1271.3 1032.5 Z" fill="#fdfdfd" stroke="#111" stroke-width="1.2" />
<path d="M1264.8 1037.4 L1264.8 1063.5" fill="none" stroke="#111" stroke-width="1.0" />
<path d="M1268.9 1035.8 L1269.7 1061.9" fill="none" stroke="#111" stroke-width="1.0" />
<path d="M1271.3 1043.9 C1272.4 1043.4 1275.4 1040.9 1277.8 1040.7 C1280.3 1040.4 1283.8 1041.2 1286 1042.3 C1288.2 1043.4 1290.1 1046.4 1290.9 1047.2" fill="none" stroke="#111" stroke-width="1.0" />
<path d="M1279.5 1042.3 L1280.3 1058.6" fill="none" stroke="#333" stroke-width="2.0" />
<path d="M1262.3 1039 L1268 1037.4 L1268.9 1043.9 L1263.2 1045.6" fill="none" stroke="#111" stroke-width="1.0" />
<path d="M1265.6 1047.2 L1268.9 1046.4" fill="none" stroke="#111" stroke-width="1.3" />
<path d="M1265.6 1052.1 L1268.9 1051.3" fill="none" stroke="#111" stroke-width="1.3" />
<path d="M1265.6 1057 L1268.9 1056.1" fill="none" stroke="#111" stroke-width="1.3" />
<path d="M1286.8 1024.1 L1297.4 1017.5 L1302.3 1015.9 L1302.3 1014.3 L1308.9 1011.8 L1313.8 1014.3 L1315.4 1020.8 L1320.3 1025.7 L1321.1 1032.2 L1315.4 1045.3 L1309.7 1049.3 L1305.6 1046.9 L1295.8 1049.3 L1293.4 1046.9 L1290.9 1037.1 L1287.7 1033.8 L1286.8 1024.1 Z" fill="#fdfdfd" stroke="#111" stroke-width="1.3" />
<path d="M1300.7 1015.9 L1310.5 1012.6 L1315.4 1040.4 L1313.8 1046.9 L1307.2 1049.3 L1300.7 1045.3 L1300.7 1015.9 Z" fill="#fdfdfd" stroke="#111" stroke-width="1.2" />
<path d="M1294.2 1020.8 L1294.2 1046.9" fill="none" stroke="#111" stroke-width="1.0" />
<path d="M1298.3 1019.2 L1299.1 1045.3" fill="none" stroke="#111" stroke-width="1.0" />
<path d="M1300.7 1027.3 C1301.8 1026.8 1304.8 1024.3 1307.2 1024.1 C1309.7 1023.8 1313.2 1024.6 1315.4 1025.7 C1317.6 1026.8 1319.5 1029.8 1320.3 1030.6" fill="none" stroke="#111" stroke-width="1.0" />
<path d="M1308.9 1025.7 L1309.7 1042" fill="none" stroke="#333" stroke-width="2.0" />
<path d="M1291.7 1022.4 L1297.4 1020.8 L1298.3 1027.3 L1292.6 1029" fill="none" stroke="#111" stroke-width="1.0" />
<path d="M1295 1030.6 L1298.3 1029.8" fill="none" stroke="#111" stroke-width="1.3" />
<path d="M1295 1035.5 L1298.3 1034.7" fill="none" stroke="#111" stroke-width="1.3" />
<path d="M1295 1040.4 L1298.3 1039.5" fill="none" stroke="#111" stroke-width="1.3" />
<line x1="1280.9" y1="1065" x2="1280.9" y2="1075" stroke="#333" stroke-width="0.9"/>
<line x1="1311.4" y1="1049.5" x2="1311.4" y2="1059.5" stroke="#333" stroke-width="0.9"/>
<path d="M1214.2 1058.6 L1217.5 1057.8 L1220.8 1055.3 L1233.8 1050.4 L1242 1047.2 L1248.5 1050.4 L1251.7 1055.3 L1256.6 1057 L1258.3 1061.9 L1259.9 1071.6 L1262.3 1075.7 L1259.9 1078.2 L1255 1079.8 L1251.7 1083.1 L1246.9 1087.9 L1235.4 1092.8 L1230.5 1092.8 L1219.1 1083.1 L1216.7 1078.2 L1215.1 1076.5 L1214.2 1058.6 Z" fill="#fdfdfd" stroke="#111" stroke-width="1.3" />
<path d="M1217.5 1060.2 L1219.1 1083.1" fill="none" stroke="#111" stroke-width="1.0" />
<path d="M1217.5 1060.2 L1227.3 1057 L1233.8 1055.3 L1238.7 1060.2 L1240.3 1091.2" fill="none" stroke="#111" stroke-width="1.1" />
<path d="M1222.4 1057 L1232.2 1052.9 L1238.7 1057.8" fill="none" stroke="#111" stroke-width="1.1" />
<path d="M1238.7 1060.2 L1240.3 1089.6" fill="none" stroke="#111" stroke-width="1.0" />
<ellipse cx="1244.4" cy="1073.3" rx="2" ry="3.4" transform="rotate(-10 1244.4 1073.3)" fill="none" stroke="#111" stroke-width="1.1"/>
<path d="M1242.8 1079 L1243.6 1086.3" fill="none" stroke="#111" stroke-width="1.6" />
<path d="M1229.7 1054.2 L1239.5 1050.1 L1246 1055" fill="none" stroke="#111" stroke-width="1.1" />
<path d="M1246 1057.5 L1247.7 1086.3" fill="none" stroke="#111" stroke-width="1.0" />
<ellipse cx="1251.7" cy="1070.3" rx="2" ry="3.4" transform="rotate(-10 1251.7 1070.3)" fill="none" stroke="#111" stroke-width="1.1"/>
<path d="M1250.1 1076 L1250.9 1083.4" fill="none" stroke="#111" stroke-width="1.6" />
<path d="M1237.1 1051.4 L1246.9 1047.3 L1253.4 1052.2" fill="none" stroke="#111" stroke-width="1.1" />
<path d="M1253.4 1054.7 L1255 1083.1" fill="none" stroke="#111" stroke-width="1.0" />
<ellipse cx="1259.1" cy="1067.4" rx="2" ry="3.4" transform="rotate(-10 1259.1 1067.4)" fill="none" stroke="#111" stroke-width="1.1"/>
<path d="M1257.4 1073.1 L1258.3 1080.4" fill="none" stroke="#111" stroke-width="1.6" />
<path d="M1228.9 1053.7 L1232.2 1048.8 L1237.1 1050.4" fill="none" stroke="#111" stroke-width="0.0" />
<line x1="1246.2" y1="1088.5" x2="1246.2" y2="1098.4" stroke="#333" stroke-width="0.9"/>
<path d="M1189.5 1091.5 L1201 1097.2" fill="none" stroke="#111" stroke-width="4.4" stroke-linecap="round"/>
<path d="M1189.5 1091.5 L1201 1097.2" fill="none" stroke="#fdfdfd" stroke-width="2.4" stroke-linecap="round"/>
<ellipse cx="1188.6" cy="1091" rx="1.8" ry="2.8" transform="rotate(-28 1188.6 1091)" fill="#fdfdfd" stroke="#111" stroke-width="1.1"/>
<ellipse cx="1203.5" cy="1098.4" rx="2.6" ry="3.9" transform="rotate(-28 1203.5 1098.4)" fill="#fdfdfd" stroke="#111" stroke-width="1.2"/>
<ellipse cx="1203.5" cy="1098.4" rx="1.1" ry="1.6" transform="rotate(-28 1203.5 1098.4)" fill="none" stroke="#111" stroke-width="0.9"/>
<ellipse cx="1209.1" cy="1101.5" rx="2.3" ry="3.6" transform="rotate(-28 1209.1 1101.5)" fill="#333" stroke="#111" stroke-width="1.4"/>
<ellipse cx="1209.1" cy="1101.5" rx="0.9" ry="1.4" transform="rotate(-28 1209.1 1101.5)" fill="#fdfdfd" stroke="#111" stroke-width="0.8"/>
<ellipse cx="1214.7" cy="1104.5" rx="2.6" ry="3.9" transform="rotate(-28 1214.7 1104.5)" fill="#fdfdfd" stroke="#111" stroke-width="1.2"/>
<ellipse cx="1214.7" cy="1104.5" rx="1.1" ry="1.6" transform="rotate(-28 1214.7 1104.5)" fill="none" stroke="#111" stroke-width="0.9"/>
<ellipse cx="1220.3" cy="1107.6" rx="2.3" ry="3.6" transform="rotate(-28 1220.3 1107.6)" fill="#333" stroke="#111" stroke-width="1.4"/>
<ellipse cx="1220.3" cy="1107.6" rx="0.9" ry="1.4" transform="rotate(-28 1220.3 1107.6)" fill="#fdfdfd" stroke="#111" stroke-width="0.8"/>
<ellipse cx="1225.9" cy="1110.6" rx="2.6" ry="3.9" transform="rotate(-28 1225.9 1110.6)" fill="#fdfdfd" stroke="#111" stroke-width="1.2"/>
<ellipse cx="1225.9" cy="1110.6" rx="1.1" ry="1.6" transform="rotate(-28 1225.9 1110.6)" fill="none" stroke="#111" stroke-width="0.9"/>
<ellipse cx="1231.5" cy="1113.7" rx="2.3" ry="3.6" transform="rotate(-28 1231.5 1113.7)" fill="#333" stroke="#111" stroke-width="1.4"/>
<ellipse cx="1231.5" cy="1113.7" rx="0.9" ry="1.4" transform="rotate(-28 1231.5 1113.7)" fill="#fdfdfd" stroke="#111" stroke-width="0.8"/>
<ellipse cx="1237.1" cy="1116.7" rx="2.6" ry="3.9" transform="rotate(-28 1237.1 1116.7)" fill="#fdfdfd" stroke="#111" stroke-width="1.2"/>
<ellipse cx="1237.1" cy="1116.7" rx="1.1" ry="1.6" transform="rotate(-28 1237.1 1116.7)" fill="none" stroke="#111" stroke-width="0.9"/>
<line x1="1223.8" y1="1118" x2="1217" y2="1123.5" stroke="#333" stroke-width="0.9"/>
<path d="M1148.4 1092.3 L1155.5 1089.9 L1155.5 1113.7 L1150.4 1096.4 L1148.4 1096.4 L1148.4 1092.3" fill="#fdfdfd" stroke="#111" stroke-width="1.1" />
<path d="M1155.5 1086.2 L1184.1 1073 L1186.1 1100.5 L1155.5 1113.7 L1155.5 1086.2 Z" fill="#fdfdfd" stroke="#111" stroke-width="1.3" />
<path d="M1161.6 1091.3 L1183 1081.1 L1184.1 1096.4 L1162.7 1106.6 L1161.6 1091.3 Z" fill="none" stroke="#111" stroke-width="1.0" />
<path d="M1162.7 1097.4 C1164.2 1095.9 1168.4 1090.5 1171.8 1088.2 C1175.2 1086 1181.2 1084.8 1183 1084.2" fill="none" stroke="#111" stroke-width="2.2" />
<path d="M1172.8 1096.4 L1175.9 1086.6" fill="none" stroke="#111" stroke-width="1.0" />
<path d="M1184.1 1073 L1186.1 1076 L1187.1 1100.5" fill="none" stroke="#111" stroke-width="1.0" />
<line x1="1173.9" y1="1106.8" x2="1173.9" y2="1115" stroke="#333" stroke-width="0.9"/>
<g transform="translate(1110 1094) rotate(200) scale(1.0)">
<path d="M-7 -1.2 L0 -1.2 L0 1.2 L-7 1.2 Z" fill="#fdfdfd" stroke="#111" stroke-width="1.1"/>
<path d="M-7.5 -1.2 L-7.5 1.2" stroke="#111" stroke-width="1.6"/>
<ellipse cx="0" cy="0" rx="1.5" ry="3.4" fill="#fdfdfd" stroke="#111" stroke-width="1.1"/>
<path d="M1.2 -2.6 L4 -2.2 L4.8 0 L4 2.2 L1.2 2.6" fill="#fdfdfd" stroke="#111" stroke-width="1.1"/>
</g>
<g transform="translate(1110.5 1135) rotate(200) scale(1.0)">
<path d="M-7 -1.2 L0 -1.2 L0 1.2 L-7 1.2 Z" fill="#fdfdfd" stroke="#111" stroke-width="1.1"/>
<path d="M-7.5 -1.2 L-7.5 1.2" stroke="#111" stroke-width="1.6"/>
<ellipse cx="0" cy="0" rx="1.5" ry="3.4" fill="#fdfdfd" stroke="#111" stroke-width="1.1"/>
<path d="M1.2 -2.6 L4 -2.2 L4.8 0 L4 2.2 L1.2 2.6" fill="#fdfdfd" stroke="#111" stroke-width="1.1"/>
</g>
<line x1="1117" y1="1135.3" x2="1128" y2="1135.3" stroke="#333" stroke-width="0.9"/>
<text x="1362.5" y="336" text-anchor="middle">111</text>
<text x="1442.8" y="398" text-anchor="middle">112</text>
<text x="1287.4" y="390" text-anchor="middle">112</text>
<text x="1253.6" y="393.8" text-anchor="middle">114</text>
<text x="1281.5" y="442" text-anchor="middle">113</text>
<text x="1345.2" y="475" text-anchor="middle">113</text>
<text x="1234.4" y="487.5" text-anchor="middle">115</text>
<text x="1325.6" y="501" text-anchor="middle">116</text>
<text x="1160.6" y="450.8" text-anchor="middle">117</text>
<text x="1174.4" y="508" text-anchor="middle">118</text>
<text x="1209.4" y="507" text-anchor="middle">118</text>
<text x="1281.5" y="544.5" text-anchor="middle">117</text>
<text x="1191.6" y="592.5" text-anchor="middle">119</text>
<text x="1145" y="645" text-anchor="middle">120</text>
<text x="1141" y="716" text-anchor="middle">121</text>
<text x="1057.5" y="788.8" text-anchor="middle">122</text>
<text x="1046" y="647.5" text-anchor="middle">123</text>
<text x="1083.5" y="404.2" text-anchor="middle">124</text>
<text x="999.8" y="446" text-anchor="middle">125</text>
<text x="905" y="468" text-anchor="middle">126</text>
<text x="468.4" y="353" text-anchor="middle">127</text>
<text x="413.4" y="347" text-anchor="middle">128</text>
<text x="400" y="381" text-anchor="middle">129</text>
<text x="234" y="357.5" text-anchor="middle">130</text>
<text x="221.5" y="401" text-anchor="middle">131</text>
<text x="219" y="422.5" text-anchor="middle">132</text>
<text x="192" y="460" text-anchor="middle">133</text>
<text x="240.5" y="470" text-anchor="middle">134</text>
<text x="191.5" y="485" text-anchor="middle">135</text>
<text x="167" y="572" text-anchor="middle">136</text>
<text x="100" y="553" text-anchor="middle">137</text>
<text x="64.5" y="504" text-anchor="middle">138</text>
<text x="115.5" y="638" text-anchor="middle">139</text>
<text x="67.8" y="709.5" text-anchor="middle">140</text>
<text x="53" y="777.5" text-anchor="middle">141</text>
<text x="312" y="625" text-anchor="middle">142</text>
<text x="384" y="651" text-anchor="middle">142</text>
<text x="372.2" y="712.5" text-anchor="middle">142</text>
<text x="312.8" y="751" text-anchor="middle">143</text>
<text x="484" y="778.8" text-anchor="middle">144</text>
<text x="202" y="928" text-anchor="middle">144</text>
<text x="791.7" y="987.3" text-anchor="middle">144</text>
<text x="713" y="1107.8" text-anchor="middle">144</text>
<text x="540.2" y="726" text-anchor="middle">145</text>
<text x="262.2" y="868.8" text-anchor="middle">145</text>
<text x="828.4" y="930.2" text-anchor="middle">145</text>
<text x="681.6" y="1065.2" text-anchor="middle">145</text>
<text x="709.7" y="880.7" text-anchor="middle">145</text>
<text x="530.8" y="827" text-anchor="middle">146</text>
<text x="252" y="974" text-anchor="middle">146</text>
<text x="837.5" y="1036.8" text-anchor="middle">146</text>
<text x="692.4" y="1129" text-anchor="middle">146</text>
<text x="340.5" y="1002.9" text-anchor="middle">147</text>
<text x="729.5" y="572.5" text-anchor="middle">148</text>
<text x="375.5" y="1009" text-anchor="middle">148</text>
<text x="779.6" y="1004.6" text-anchor="middle">148</text>
<text x="1380.5" y="947.7" text-anchor="middle">148</text>
<text x="1139.5" y="1140" text-anchor="middle">148</text>
<text x="402.4" y="1058.8" text-anchor="middle">149</text>
<text x="752.3" y="1052.3" text-anchor="middle">149</text>
<text x="777" y="617.5" text-anchor="middle">150</text>
<text x="712" y="848.4" text-anchor="middle">151</text>
<text x="972.5" y="787.5" text-anchor="middle">152</text>
<text x="1021" y="822.5" text-anchor="middle">153</text>
<text x="1125" y="816" text-anchor="middle">154</text>
<text x="1292.3" y="866.6" text-anchor="middle">155</text>
<text x="1350" y="969" text-anchor="middle">156</text>
<text x="1313" y="1068.4" text-anchor="middle">157</text>
<text x="1284.7" y="1083" text-anchor="middle">157</text>
<text x="1247.7" y="1106" text-anchor="middle">158</text>
<text x="1215.5" y="1130" text-anchor="middle">159</text>
<text x="1174.2" y="1125" text-anchor="middle">160</text>
<text x="997" y="1049.4" text-anchor="middle">161</text>
<text x="891.6" y="907" text-anchor="middle">162</text>
<text x="929" y="835" text-anchor="middle">163</text>
<text x="863" y="845.8" text-anchor="middle">164</text>
<text x="931" y="805" text-anchor="middle">165</text>
<line x1="468.3" y1="355" x2="468.3" y2="364.5" stroke="#333" stroke-width="0.9"/>
<line x1="339.7" y1="980.5" x2="339.7" y2="988.6" stroke="#333" stroke-width="0.9"/>
</svg></body></html>
